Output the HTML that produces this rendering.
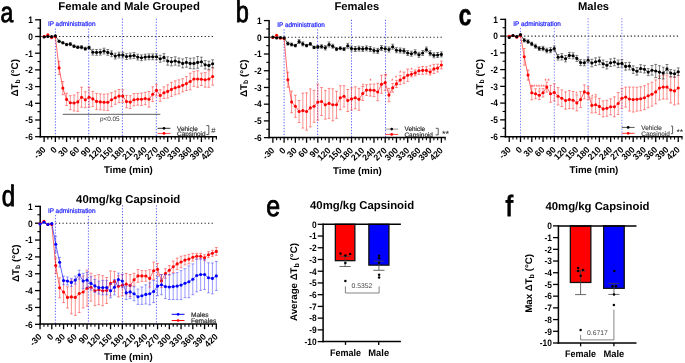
<!DOCTYPE html>
<html><head><meta charset="utf-8"><style>
html,body{margin:0;padding:0;background:#fff;}
body{width:685px;height:363px;overflow:hidden;}
svg{display:block;font-family:"Liberation Sans", sans-serif;will-change:transform;text-rendering:geometricPrecision;}
</style></head><body>
<svg width="685" height="363" viewBox="0 0 685 363">
<rect width="685" height="363" fill="#fff"/>
<line x1="41.3" y1="36.5" x2="214.38" y2="36.5" stroke="#222" stroke-width="1.1" stroke-dasharray="1.25 2.3"/>
<line x1="55.4" y1="28.5" x2="55.4" y2="136.8" stroke="#5050ff" stroke-width="0.9" stroke-dasharray="1.3 1.6"/>
<line x1="88.7" y1="28.5" x2="88.7" y2="136.8" stroke="#5050ff" stroke-width="0.9" stroke-dasharray="1.3 1.6"/>
<line x1="122.4" y1="18.7" x2="122.4" y2="136.8" stroke="#5050ff" stroke-width="0.9" stroke-dasharray="1.3 1.6"/>
<line x1="156.3" y1="18.7" x2="156.3" y2="136.8" stroke="#5050ff" stroke-width="0.9" stroke-dasharray="1.3 1.6"/>
<text x="47.9" y="25.7" font-size="6.7" font-weight="normal" text-anchor="start" fill="#2222ff" stroke="#2222ff" stroke-width="0.22" textLength="47.6" lengthAdjust="spacingAndGlyphs">IP administration</text>
<line x1="40.3" y1="19.1" x2="40.3" y2="137.5" stroke="#000" stroke-width="1.5" />
<line x1="35.1" y1="136.7" x2="40.3" y2="136.7" stroke="#000" stroke-width="1.3" />
<text transform="translate(32.8,140) scale(0.9,1)" font-size="9.3" font-weight="bold" text-anchor="end">-6</text>
<line x1="35.1" y1="120" x2="40.3" y2="120" stroke="#000" stroke-width="1.3" />
<text transform="translate(32.8,123.3) scale(0.9,1)" font-size="9.3" font-weight="bold" text-anchor="end">-5</text>
<line x1="35.1" y1="103.3" x2="40.3" y2="103.3" stroke="#000" stroke-width="1.3" />
<text transform="translate(32.8,106.6) scale(0.9,1)" font-size="9.3" font-weight="bold" text-anchor="end">-4</text>
<line x1="35.1" y1="86.6" x2="40.3" y2="86.6" stroke="#000" stroke-width="1.3" />
<text transform="translate(32.8,89.9) scale(0.9,1)" font-size="9.3" font-weight="bold" text-anchor="end">-3</text>
<line x1="35.1" y1="69.9" x2="40.3" y2="69.9" stroke="#000" stroke-width="1.3" />
<text transform="translate(32.8,73.2) scale(0.9,1)" font-size="9.3" font-weight="bold" text-anchor="end">-2</text>
<line x1="35.1" y1="53.2" x2="40.3" y2="53.2" stroke="#000" stroke-width="1.3" />
<text transform="translate(32.8,56.5) scale(0.9,1)" font-size="9.3" font-weight="bold" text-anchor="end">-1</text>
<line x1="35.1" y1="36.5" x2="40.3" y2="36.5" stroke="#000" stroke-width="1.3" />
<text transform="translate(32.8,39.8) scale(0.9,1)" font-size="9.3" font-weight="bold" text-anchor="end">0</text>
<line x1="35.1" y1="19.8" x2="40.3" y2="19.8" stroke="#000" stroke-width="1.3" />
<text transform="translate(32.8,23.1) scale(0.9,1)" font-size="9.3" font-weight="bold" text-anchor="end">1</text>
<line x1="37.5" y1="128.35" x2="40.3" y2="128.35" stroke="#000" stroke-width="1.1" />
<line x1="37.5" y1="111.65" x2="40.3" y2="111.65" stroke="#000" stroke-width="1.1" />
<line x1="37.5" y1="94.95" x2="40.3" y2="94.95" stroke="#000" stroke-width="1.1" />
<line x1="37.5" y1="78.25" x2="40.3" y2="78.25" stroke="#000" stroke-width="1.1" />
<line x1="37.5" y1="61.55" x2="40.3" y2="61.55" stroke="#000" stroke-width="1.1" />
<line x1="37.5" y1="44.85" x2="40.3" y2="44.85" stroke="#000" stroke-width="1.1" />
<line x1="37.5" y1="28.15" x2="40.3" y2="28.15" stroke="#000" stroke-width="1.1" />
<line x1="39.6" y1="136.8" x2="216.98" y2="136.8" stroke="#000" stroke-width="1.6" />
<line x1="44.12" y1="136.8" x2="44.12" y2="142" stroke="#000" stroke-width="1.3" />
<line x1="47.86" y1="136.8" x2="47.86" y2="139.6" stroke="#000" stroke-width="1.1" />
<line x1="51.61" y1="136.8" x2="51.61" y2="139.6" stroke="#000" stroke-width="1.1" />
<line x1="55.35" y1="136.8" x2="55.35" y2="142" stroke="#000" stroke-width="1.3" />
<line x1="59.09" y1="136.8" x2="59.09" y2="139.6" stroke="#000" stroke-width="1.1" />
<line x1="62.84" y1="136.8" x2="62.84" y2="139.6" stroke="#000" stroke-width="1.1" />
<line x1="66.59" y1="136.8" x2="66.59" y2="142" stroke="#000" stroke-width="1.3" />
<line x1="70.33" y1="136.8" x2="70.33" y2="139.6" stroke="#000" stroke-width="1.1" />
<line x1="74.08" y1="136.8" x2="74.08" y2="139.6" stroke="#000" stroke-width="1.1" />
<line x1="77.82" y1="136.8" x2="77.82" y2="142" stroke="#000" stroke-width="1.3" />
<line x1="81.56" y1="136.8" x2="81.56" y2="139.6" stroke="#000" stroke-width="1.1" />
<line x1="85.31" y1="136.8" x2="85.31" y2="139.6" stroke="#000" stroke-width="1.1" />
<line x1="89.06" y1="136.8" x2="89.06" y2="142" stroke="#000" stroke-width="1.3" />
<line x1="92.8" y1="136.8" x2="92.8" y2="139.6" stroke="#000" stroke-width="1.1" />
<line x1="96.55" y1="136.8" x2="96.55" y2="139.6" stroke="#000" stroke-width="1.1" />
<line x1="100.29" y1="136.8" x2="100.29" y2="142" stroke="#000" stroke-width="1.3" />
<line x1="104.03" y1="136.8" x2="104.03" y2="139.6" stroke="#000" stroke-width="1.1" />
<line x1="107.78" y1="136.8" x2="107.78" y2="139.6" stroke="#000" stroke-width="1.1" />
<line x1="111.53" y1="136.8" x2="111.53" y2="142" stroke="#000" stroke-width="1.3" />
<line x1="115.27" y1="136.8" x2="115.27" y2="139.6" stroke="#000" stroke-width="1.1" />
<line x1="119.02" y1="136.8" x2="119.02" y2="139.6" stroke="#000" stroke-width="1.1" />
<line x1="122.76" y1="136.8" x2="122.76" y2="142" stroke="#000" stroke-width="1.3" />
<line x1="126.5" y1="136.8" x2="126.5" y2="139.6" stroke="#000" stroke-width="1.1" />
<line x1="130.25" y1="136.8" x2="130.25" y2="139.6" stroke="#000" stroke-width="1.1" />
<line x1="134" y1="136.8" x2="134" y2="142" stroke="#000" stroke-width="1.3" />
<line x1="137.74" y1="136.8" x2="137.74" y2="139.6" stroke="#000" stroke-width="1.1" />
<line x1="141.49" y1="136.8" x2="141.49" y2="139.6" stroke="#000" stroke-width="1.1" />
<line x1="145.23" y1="136.8" x2="145.23" y2="142" stroke="#000" stroke-width="1.3" />
<line x1="148.97" y1="136.8" x2="148.97" y2="139.6" stroke="#000" stroke-width="1.1" />
<line x1="152.72" y1="136.8" x2="152.72" y2="139.6" stroke="#000" stroke-width="1.1" />
<line x1="156.47" y1="136.8" x2="156.47" y2="142" stroke="#000" stroke-width="1.3" />
<line x1="160.21" y1="136.8" x2="160.21" y2="139.6" stroke="#000" stroke-width="1.1" />
<line x1="163.96" y1="136.8" x2="163.96" y2="139.6" stroke="#000" stroke-width="1.1" />
<line x1="167.7" y1="136.8" x2="167.7" y2="142" stroke="#000" stroke-width="1.3" />
<line x1="171.44" y1="136.8" x2="171.44" y2="139.6" stroke="#000" stroke-width="1.1" />
<line x1="175.19" y1="136.8" x2="175.19" y2="139.6" stroke="#000" stroke-width="1.1" />
<line x1="178.94" y1="136.8" x2="178.94" y2="142" stroke="#000" stroke-width="1.3" />
<line x1="182.68" y1="136.8" x2="182.68" y2="139.6" stroke="#000" stroke-width="1.1" />
<line x1="186.42" y1="136.8" x2="186.42" y2="139.6" stroke="#000" stroke-width="1.1" />
<line x1="190.17" y1="136.8" x2="190.17" y2="142" stroke="#000" stroke-width="1.3" />
<line x1="193.91" y1="136.8" x2="193.91" y2="139.6" stroke="#000" stroke-width="1.1" />
<line x1="197.66" y1="136.8" x2="197.66" y2="139.6" stroke="#000" stroke-width="1.1" />
<line x1="201.41" y1="136.8" x2="201.41" y2="142" stroke="#000" stroke-width="1.3" />
<line x1="205.15" y1="136.8" x2="205.15" y2="139.6" stroke="#000" stroke-width="1.1" />
<line x1="208.89" y1="136.8" x2="208.89" y2="139.6" stroke="#000" stroke-width="1.1" />
<line x1="212.64" y1="136.8" x2="212.64" y2="142" stroke="#000" stroke-width="1.3" />
<line x1="216.38" y1="136.8" x2="216.38" y2="139.6" stroke="#000" stroke-width="1.1" />
<text transform="translate(46.32,150.2) rotate(-45)" font-size="8.8" font-weight="bold" text-anchor="end">-30</text>
<text transform="translate(57.55,150.2) rotate(-45)" font-size="8.8" font-weight="bold" text-anchor="end">0</text>
<text transform="translate(68.79,150.2) rotate(-45)" font-size="8.8" font-weight="bold" text-anchor="end">30</text>
<text transform="translate(80.02,150.2) rotate(-45)" font-size="8.8" font-weight="bold" text-anchor="end">60</text>
<text transform="translate(91.26,150.2) rotate(-45)" font-size="8.8" font-weight="bold" text-anchor="end">90</text>
<text transform="translate(102.49,150.2) rotate(-45)" font-size="8.8" font-weight="bold" text-anchor="end">120</text>
<text transform="translate(113.73,150.2) rotate(-45)" font-size="8.8" font-weight="bold" text-anchor="end">150</text>
<text transform="translate(124.96,150.2) rotate(-45)" font-size="8.8" font-weight="bold" text-anchor="end">180</text>
<text transform="translate(136.19,150.2) rotate(-45)" font-size="8.8" font-weight="bold" text-anchor="end">210</text>
<text transform="translate(147.43,150.2) rotate(-45)" font-size="8.8" font-weight="bold" text-anchor="end">240</text>
<text transform="translate(158.66,150.2) rotate(-45)" font-size="8.8" font-weight="bold" text-anchor="end">270</text>
<text transform="translate(169.9,150.2) rotate(-45)" font-size="8.8" font-weight="bold" text-anchor="end">300</text>
<text transform="translate(181.13,150.2) rotate(-45)" font-size="8.8" font-weight="bold" text-anchor="end">330</text>
<text transform="translate(192.37,150.2) rotate(-45)" font-size="8.8" font-weight="bold" text-anchor="end">360</text>
<text transform="translate(203.6,150.2) rotate(-45)" font-size="8.8" font-weight="bold" text-anchor="end">390</text>
<text transform="translate(214.84,150.2) rotate(-45)" font-size="8.8" font-weight="bold" text-anchor="end">420</text>
<text x="128.4" y="172.7" font-size="9.7" font-weight="bold" text-anchor="middle" fill="#000" >Time (min)</text>
<text transform="translate(18,77.8) rotate(-90)" font-size="9.8" font-weight="bold" text-anchor="middle">ΔT<tspan font-size="6.8" dy="1.6">b</tspan><tspan dy="-1.6"> (°C)</tspan></text>
<text x="58.3" y="9.9" font-size="11.38" font-weight="bold" text-anchor="start" fill="#000" >Female and Male Grouped</text>
<path d="M59.09 61.3V74.5M57.7 61.3h2.8M57.7 74.5h2.8" stroke="#ff2a2a" stroke-width="0.7" fill="none" opacity="0.75"/>
<path d="M62.84 81.5V94.7M61.44 81.5h2.8M61.44 94.7h2.8" stroke="#ff2a2a" stroke-width="0.7" fill="none" opacity="0.75"/>
<path d="M66.59 93.2V105.6M65.19 93.2h2.8M65.19 105.6h2.8" stroke="#ff2a2a" stroke-width="0.7" fill="none" opacity="0.75"/>
<path d="M70.33 95.7V109.7M68.93 95.7h2.8M68.93 109.7h2.8" stroke="#ff2a2a" stroke-width="0.7" fill="none" opacity="0.75"/>
<path d="M74.08 95V111M72.67 95h2.8M72.67 111h2.8" stroke="#ff2a2a" stroke-width="0.7" fill="none" opacity="0.75"/>
<path d="M77.82 92.4V111.4M76.42 92.4h2.8M76.42 111.4h2.8" stroke="#ff2a2a" stroke-width="0.7" fill="none" opacity="0.75"/>
<path d="M81.56 87.2V107.2M80.16 87.2h2.8M80.16 107.2h2.8" stroke="#ff2a2a" stroke-width="0.7" fill="none" opacity="0.75"/>
<path d="M85.31 91.7V107.7M83.91 91.7h2.8M83.91 107.7h2.8" stroke="#ff2a2a" stroke-width="0.7" fill="none" opacity="0.75"/>
<path d="M89.06 87.2V107.2M87.66 87.2h2.8M87.66 107.2h2.8" stroke="#ff2a2a" stroke-width="0.7" fill="none" opacity="0.75"/>
<path d="M92.8 91.4V106.4M91.4 91.4h2.8M91.4 106.4h2.8" stroke="#ff2a2a" stroke-width="0.7" fill="none" opacity="0.75"/>
<path d="M96.55 93.4V109.4M95.14 93.4h2.8M95.14 109.4h2.8" stroke="#ff2a2a" stroke-width="0.7" fill="none" opacity="0.75"/>
<path d="M100.29 93.9V109.9M98.89 93.9h2.8M98.89 109.9h2.8" stroke="#ff2a2a" stroke-width="0.7" fill="none" opacity="0.75"/>
<path d="M104.03 94.2V110.2M102.63 94.2h2.8M102.63 110.2h2.8" stroke="#ff2a2a" stroke-width="0.7" fill="none" opacity="0.75"/>
<path d="M107.78 93.9V110.5M106.38 93.9h2.8M106.38 110.5h2.8" stroke="#ff2a2a" stroke-width="0.7" fill="none" opacity="0.75"/>
<path d="M111.53 92.7V106.7M110.12 92.7h2.8M110.12 106.7h2.8" stroke="#ff2a2a" stroke-width="0.7" fill="none" opacity="0.75"/>
<path d="M115.27 91.1V104.3M113.87 91.1h2.8M113.87 104.3h2.8" stroke="#ff2a2a" stroke-width="0.7" fill="none" opacity="0.75"/>
<path d="M119.02 89.5V102.7M117.61 89.5h2.8M117.61 102.7h2.8" stroke="#ff2a2a" stroke-width="0.7" fill="none" opacity="0.75"/>
<path d="M122.76 89.9V102.3M121.36 89.9h2.8M121.36 102.3h2.8" stroke="#ff2a2a" stroke-width="0.7" fill="none" opacity="0.75"/>
<path d="M126.5 95.4V107.8M125.1 95.4h2.8M125.1 107.8h2.8" stroke="#ff2a2a" stroke-width="0.7" fill="none" opacity="0.75"/>
<path d="M130.25 95.7V108.5M128.85 95.7h2.8M128.85 108.5h2.8" stroke="#ff2a2a" stroke-width="0.7" fill="none" opacity="0.75"/>
<path d="M134 93.5V105.9M132.59 93.5h2.8M132.59 105.9h2.8" stroke="#ff2a2a" stroke-width="0.7" fill="none" opacity="0.75"/>
<path d="M137.74 93.5V105.1M136.34 93.5h2.8M136.34 105.1h2.8" stroke="#ff2a2a" stroke-width="0.7" fill="none" opacity="0.75"/>
<path d="M141.49 93V105.4M140.09 93h2.8M140.09 105.4h2.8" stroke="#ff2a2a" stroke-width="0.7" fill="none" opacity="0.75"/>
<path d="M145.23 92.3V104.7M143.83 92.3h2.8M143.83 104.7h2.8" stroke="#ff2a2a" stroke-width="0.7" fill="none" opacity="0.75"/>
<path d="M148.97 91.5V107.1M147.57 91.5h2.8M147.57 107.1h2.8" stroke="#ff2a2a" stroke-width="0.7" fill="none" opacity="0.75"/>
<path d="M152.72 86.8V101.6M151.32 86.8h2.8M151.32 101.6h2.8" stroke="#ff2a2a" stroke-width="0.7" fill="none" opacity="0.75"/>
<path d="M156.47 84.4V96M155.06 84.4h2.8M155.06 96h2.8" stroke="#ff2a2a" stroke-width="0.7" fill="none" opacity="0.75"/>
<path d="M160.21 89.7V101.3M158.81 89.7h2.8M158.81 101.3h2.8" stroke="#ff2a2a" stroke-width="0.7" fill="none" opacity="0.75"/>
<path d="M163.96 86.9V98.5M162.56 86.9h2.8M162.56 98.5h2.8" stroke="#ff2a2a" stroke-width="0.7" fill="none" opacity="0.75"/>
<path d="M167.7 84.8V98M166.3 84.8h2.8M166.3 98h2.8" stroke="#ff2a2a" stroke-width="0.7" fill="none" opacity="0.75"/>
<path d="M171.44 82.4V96.4M170.04 82.4h2.8M170.04 96.4h2.8" stroke="#ff2a2a" stroke-width="0.7" fill="none" opacity="0.75"/>
<path d="M175.19 80.8V94.8M173.79 80.8h2.8M173.79 94.8h2.8" stroke="#ff2a2a" stroke-width="0.7" fill="none" opacity="0.75"/>
<path d="M178.94 79.8V93.8M177.53 79.8h2.8M177.53 93.8h2.8" stroke="#ff2a2a" stroke-width="0.7" fill="none" opacity="0.75"/>
<path d="M182.68 78.7V91.9M181.28 78.7h2.8M181.28 91.9h2.8" stroke="#ff2a2a" stroke-width="0.7" fill="none" opacity="0.75"/>
<path d="M186.42 76.6V90.6M185.02 76.6h2.8M185.02 90.6h2.8" stroke="#ff2a2a" stroke-width="0.7" fill="none" opacity="0.75"/>
<path d="M190.17 73.2V89.8M188.77 73.2h2.8M188.77 89.8h2.8" stroke="#ff2a2a" stroke-width="0.7" fill="none" opacity="0.75"/>
<path d="M193.91 71.6V86.4M192.51 71.6h2.8M192.51 86.4h2.8" stroke="#ff2a2a" stroke-width="0.7" fill="none" opacity="0.75"/>
<path d="M197.66 70.7V87.3M196.26 70.7h2.8M196.26 87.3h2.8" stroke="#ff2a2a" stroke-width="0.7" fill="none" opacity="0.75"/>
<path d="M201.41 73.1V85.5M200 73.1h2.8M200 85.5h2.8" stroke="#ff2a2a" stroke-width="0.7" fill="none" opacity="0.75"/>
<path d="M205.15 72.4V87.2M203.75 72.4h2.8M203.75 87.2h2.8" stroke="#ff2a2a" stroke-width="0.7" fill="none" opacity="0.75"/>
<path d="M208.89 70.7V87.3M207.49 70.7h2.8M207.49 87.3h2.8" stroke="#ff2a2a" stroke-width="0.7" fill="none" opacity="0.75"/>
<path d="M212.64 67.8V85.2M211.24 67.8h2.8M211.24 85.2h2.8" stroke="#ff2a2a" stroke-width="0.7" fill="none" opacity="0.75"/>
<path d="M44.12 36.5 L47.86 34.9 L51.61 37.6 L55.35 36.8 L59.09 67.9 L62.84 88.1 L66.59 99.4 L70.33 102.7 L74.08 103 L77.82 101.9 L81.56 97.2 L85.31 99.7 L89.06 97.2 L92.8 98.9 L96.55 101.4 L100.29 101.9 L104.03 102.2 L107.78 102.2 L111.53 99.7 L115.27 97.7 L119.02 96.1 L122.76 96.1 L126.5 101.6 L130.25 102.1 L134 99.7 L137.74 99.3 L141.49 99.2 L145.23 98.5 L148.97 99.3 L152.72 94.2 L156.47 90.2 L160.21 95.5 L163.96 92.7 L167.7 91.4 L171.44 89.4 L175.19 87.8 L178.94 86.8 L182.68 85.3 L186.42 83.6 L190.17 81.5 L193.91 79 L197.66 79 L201.41 79.3 L205.15 79.8 L208.89 79 L212.64 76.5" stroke="#ff0000" stroke-width="0.7" fill="none" opacity="0.85"/>
<circle cx="44.12" cy="36.5" r="1.55" fill="#ff0000"/>
<circle cx="47.86" cy="34.9" r="1.55" fill="#ff0000"/>
<circle cx="51.61" cy="37.6" r="1.55" fill="#ff0000"/>
<circle cx="55.35" cy="36.8" r="1.55" fill="#ff0000"/>
<circle cx="59.09" cy="67.9" r="1.55" fill="#ff0000"/>
<circle cx="62.84" cy="88.1" r="1.55" fill="#ff0000"/>
<circle cx="66.59" cy="99.4" r="1.55" fill="#ff0000"/>
<circle cx="70.33" cy="102.7" r="1.55" fill="#ff0000"/>
<circle cx="74.08" cy="103" r="1.55" fill="#ff0000"/>
<circle cx="77.82" cy="101.9" r="1.55" fill="#ff0000"/>
<circle cx="81.56" cy="97.2" r="1.55" fill="#ff0000"/>
<circle cx="85.31" cy="99.7" r="1.55" fill="#ff0000"/>
<circle cx="89.06" cy="97.2" r="1.55" fill="#ff0000"/>
<circle cx="92.8" cy="98.9" r="1.55" fill="#ff0000"/>
<circle cx="96.55" cy="101.4" r="1.55" fill="#ff0000"/>
<circle cx="100.29" cy="101.9" r="1.55" fill="#ff0000"/>
<circle cx="104.03" cy="102.2" r="1.55" fill="#ff0000"/>
<circle cx="107.78" cy="102.2" r="1.55" fill="#ff0000"/>
<circle cx="111.53" cy="99.7" r="1.55" fill="#ff0000"/>
<circle cx="115.27" cy="97.7" r="1.55" fill="#ff0000"/>
<circle cx="119.02" cy="96.1" r="1.55" fill="#ff0000"/>
<circle cx="122.76" cy="96.1" r="1.55" fill="#ff0000"/>
<circle cx="126.5" cy="101.6" r="1.55" fill="#ff0000"/>
<circle cx="130.25" cy="102.1" r="1.55" fill="#ff0000"/>
<circle cx="134" cy="99.7" r="1.55" fill="#ff0000"/>
<circle cx="137.74" cy="99.3" r="1.55" fill="#ff0000"/>
<circle cx="141.49" cy="99.2" r="1.55" fill="#ff0000"/>
<circle cx="145.23" cy="98.5" r="1.55" fill="#ff0000"/>
<circle cx="148.97" cy="99.3" r="1.55" fill="#ff0000"/>
<circle cx="152.72" cy="94.2" r="1.55" fill="#ff0000"/>
<circle cx="156.47" cy="90.2" r="1.55" fill="#ff0000"/>
<circle cx="160.21" cy="95.5" r="1.55" fill="#ff0000"/>
<circle cx="163.96" cy="92.7" r="1.55" fill="#ff0000"/>
<circle cx="167.7" cy="91.4" r="1.55" fill="#ff0000"/>
<circle cx="171.44" cy="89.4" r="1.55" fill="#ff0000"/>
<circle cx="175.19" cy="87.8" r="1.55" fill="#ff0000"/>
<circle cx="178.94" cy="86.8" r="1.55" fill="#ff0000"/>
<circle cx="182.68" cy="85.3" r="1.55" fill="#ff0000"/>
<circle cx="186.42" cy="83.6" r="1.55" fill="#ff0000"/>
<circle cx="190.17" cy="81.5" r="1.55" fill="#ff0000"/>
<circle cx="193.91" cy="79" r="1.55" fill="#ff0000"/>
<circle cx="197.66" cy="79" r="1.55" fill="#ff0000"/>
<circle cx="201.41" cy="79.3" r="1.55" fill="#ff0000"/>
<circle cx="205.15" cy="79.8" r="1.55" fill="#ff0000"/>
<circle cx="208.89" cy="79" r="1.55" fill="#ff0000"/>
<circle cx="212.64" cy="76.5" r="1.55" fill="#ff0000"/>
<path d="M59.09 40.2V42.2M57.7 40.2h2.8M57.7 42.2h2.8" stroke="#222" stroke-width="0.7" fill="none" opacity="0.8"/>
<path d="M62.84 41.8V43.8M61.44 41.8h2.8M61.44 43.8h2.8" stroke="#222" stroke-width="0.7" fill="none" opacity="0.8"/>
<path d="M66.59 43.3V45.7M65.19 43.3h2.8M65.19 45.7h2.8" stroke="#222" stroke-width="0.7" fill="none" opacity="0.8"/>
<path d="M70.33 42.6V45.6M68.93 42.6h2.8M68.93 45.6h2.8" stroke="#222" stroke-width="0.7" fill="none" opacity="0.8"/>
<path d="M74.08 44.9V47.5M72.67 44.9h2.8M72.67 47.5h2.8" stroke="#222" stroke-width="0.7" fill="none" opacity="0.8"/>
<path d="M77.82 45.9V48.5M76.42 45.9h2.8M76.42 48.5h2.8" stroke="#222" stroke-width="0.7" fill="none" opacity="0.8"/>
<path d="M81.56 45.6V48.8M80.16 45.6h2.8M80.16 48.8h2.8" stroke="#222" stroke-width="0.7" fill="none" opacity="0.8"/>
<path d="M85.31 47.2V50.2M83.91 47.2h2.8M83.91 50.2h2.8" stroke="#222" stroke-width="0.7" fill="none" opacity="0.8"/>
<path d="M89.06 46.1V49.1M87.66 46.1h2.8M87.66 49.1h2.8" stroke="#222" stroke-width="0.7" fill="none" opacity="0.8"/>
<path d="M92.8 49.3V55.1M91.4 49.3h2.8M91.4 55.1h2.8" stroke="#222" stroke-width="0.7" fill="none" opacity="0.8"/>
<path d="M96.55 49.5V55.3M95.14 49.5h2.8M95.14 55.3h2.8" stroke="#222" stroke-width="0.7" fill="none" opacity="0.8"/>
<path d="M100.29 49.3V55.1M98.89 49.3h2.8M98.89 55.1h2.8" stroke="#222" stroke-width="0.7" fill="none" opacity="0.8"/>
<path d="M104.03 48.2V54M102.63 48.2h2.8M102.63 54h2.8" stroke="#222" stroke-width="0.7" fill="none" opacity="0.8"/>
<path d="M107.78 49.5V55.3M106.38 49.5h2.8M106.38 55.3h2.8" stroke="#222" stroke-width="0.7" fill="none" opacity="0.8"/>
<path d="M111.53 50.9V56.7M110.12 50.9h2.8M110.12 56.7h2.8" stroke="#222" stroke-width="0.7" fill="none" opacity="0.8"/>
<path d="M115.27 53.2V59M113.87 53.2h2.8M113.87 59h2.8" stroke="#222" stroke-width="0.7" fill="none" opacity="0.8"/>
<path d="M119.02 52.2V58M117.61 52.2h2.8M117.61 58h2.8" stroke="#222" stroke-width="0.7" fill="none" opacity="0.8"/>
<path d="M122.76 52.2V58M121.36 52.2h2.8M121.36 58h2.8" stroke="#222" stroke-width="0.7" fill="none" opacity="0.8"/>
<path d="M126.5 53.7V59.5M125.1 53.7h2.8M125.1 59.5h2.8" stroke="#222" stroke-width="0.7" fill="none" opacity="0.8"/>
<path d="M130.25 53.1V58.9M128.85 53.1h2.8M128.85 58.9h2.8" stroke="#222" stroke-width="0.7" fill="none" opacity="0.8"/>
<path d="M134 52.6V58.4M132.59 52.6h2.8M132.59 58.4h2.8" stroke="#222" stroke-width="0.7" fill="none" opacity="0.8"/>
<path d="M137.74 54.2V60M136.34 54.2h2.8M136.34 60h2.8" stroke="#222" stroke-width="0.7" fill="none" opacity="0.8"/>
<path d="M141.49 54.9V60.7M140.09 54.9h2.8M140.09 60.7h2.8" stroke="#222" stroke-width="0.7" fill="none" opacity="0.8"/>
<path d="M145.23 54.2V60M143.83 54.2h2.8M143.83 60h2.8" stroke="#222" stroke-width="0.7" fill="none" opacity="0.8"/>
<path d="M148.97 53.9V59.7M147.57 53.9h2.8M147.57 59.7h2.8" stroke="#222" stroke-width="0.7" fill="none" opacity="0.8"/>
<path d="M152.72 53.9V59.7M151.32 53.9h2.8M151.32 59.7h2.8" stroke="#222" stroke-width="0.7" fill="none" opacity="0.8"/>
<path d="M156.47 53.9V59.7M155.06 53.9h2.8M155.06 59.7h2.8" stroke="#222" stroke-width="0.7" fill="none" opacity="0.8"/>
<path d="M160.21 55.3V62.3M158.81 55.3h2.8M158.81 62.3h2.8" stroke="#222" stroke-width="0.7" fill="none" opacity="0.8"/>
<path d="M163.96 53.6V61.2M162.56 53.6h2.8M162.56 61.2h2.8" stroke="#222" stroke-width="0.7" fill="none" opacity="0.8"/>
<path d="M167.7 56.8V65.2M166.3 56.8h2.8M166.3 65.2h2.8" stroke="#222" stroke-width="0.7" fill="none" opacity="0.8"/>
<path d="M171.44 57.5V65.9M170.04 57.5h2.8M170.04 65.9h2.8" stroke="#222" stroke-width="0.7" fill="none" opacity="0.8"/>
<path d="M175.19 56.8V65.2M173.79 56.8h2.8M173.79 65.2h2.8" stroke="#222" stroke-width="0.7" fill="none" opacity="0.8"/>
<path d="M178.94 58V66M177.53 58h2.8M177.53 66h2.8" stroke="#222" stroke-width="0.7" fill="none" opacity="0.8"/>
<path d="M182.68 58.9V67.9M181.28 58.9h2.8M181.28 67.9h2.8" stroke="#222" stroke-width="0.7" fill="none" opacity="0.8"/>
<path d="M186.42 57.6V67.2M185.02 57.6h2.8M185.02 67.2h2.8" stroke="#222" stroke-width="0.7" fill="none" opacity="0.8"/>
<path d="M190.17 58.2V68.6M188.77 58.2h2.8M188.77 68.6h2.8" stroke="#222" stroke-width="0.7" fill="none" opacity="0.8"/>
<path d="M193.91 57.9V68.9M192.51 57.9h2.8M192.51 68.9h2.8" stroke="#222" stroke-width="0.7" fill="none" opacity="0.8"/>
<path d="M197.66 56.5V68.3M196.26 56.5h2.8M196.26 68.3h2.8" stroke="#222" stroke-width="0.7" fill="none" opacity="0.8"/>
<path d="M201.41 57.2V66.2M200 57.2h2.8M200 66.2h2.8" stroke="#222" stroke-width="0.7" fill="none" opacity="0.8"/>
<path d="M205.15 60.6V69M203.75 60.6h2.8M203.75 69h2.8" stroke="#222" stroke-width="0.7" fill="none" opacity="0.8"/>
<path d="M208.89 61.2V69.6M207.49 61.2h2.8M207.49 69.6h2.8" stroke="#222" stroke-width="0.7" fill="none" opacity="0.8"/>
<path d="M212.64 59.8V67.8M211.24 59.8h2.8M211.24 67.8h2.8" stroke="#222" stroke-width="0.7" fill="none" opacity="0.8"/>
<path d="M44.12 37.05 L47.86 36.5 L51.61 36.6 L55.35 35.8 L59.09 41.2 L62.84 42.8 L66.59 44.5 L70.33 44.1 L74.08 46.2 L77.82 47.2 L81.56 47.2 L85.31 48.7 L89.06 47.6 L92.8 52.2 L96.55 52.4 L100.29 52.2 L104.03 51.1 L107.78 52.4 L111.53 53.8 L115.27 56.1 L119.02 55.1 L122.76 55.1 L126.5 56.6 L130.25 56 L134 55.5 L137.74 57.1 L141.49 57.8 L145.23 57.1 L148.97 56.8 L152.72 56.8 L156.47 56.8 L160.21 58.8 L163.96 57.4 L167.7 61 L171.44 61.7 L175.19 61 L178.94 62 L182.68 63.4 L186.42 62.4 L190.17 63.4 L193.91 63.4 L197.66 62.4 L201.41 61.7 L205.15 64.8 L208.89 65.4 L212.64 63.8" stroke="#000" stroke-width="0.7" fill="none" opacity="0.85"/>
<circle cx="44.12" cy="37.05" r="1.55" fill="#000"/>
<circle cx="47.86" cy="36.5" r="1.55" fill="#000"/>
<circle cx="51.61" cy="36.6" r="1.55" fill="#000"/>
<circle cx="55.35" cy="35.8" r="1.55" fill="#000"/>
<circle cx="59.09" cy="41.2" r="1.55" fill="#000"/>
<circle cx="62.84" cy="42.8" r="1.55" fill="#000"/>
<circle cx="66.59" cy="44.5" r="1.55" fill="#000"/>
<circle cx="70.33" cy="44.1" r="1.55" fill="#000"/>
<circle cx="74.08" cy="46.2" r="1.55" fill="#000"/>
<circle cx="77.82" cy="47.2" r="1.55" fill="#000"/>
<circle cx="81.56" cy="47.2" r="1.55" fill="#000"/>
<circle cx="85.31" cy="48.7" r="1.55" fill="#000"/>
<circle cx="89.06" cy="47.6" r="1.55" fill="#000"/>
<circle cx="92.8" cy="52.2" r="1.55" fill="#000"/>
<circle cx="96.55" cy="52.4" r="1.55" fill="#000"/>
<circle cx="100.29" cy="52.2" r="1.55" fill="#000"/>
<circle cx="104.03" cy="51.1" r="1.55" fill="#000"/>
<circle cx="107.78" cy="52.4" r="1.55" fill="#000"/>
<circle cx="111.53" cy="53.8" r="1.55" fill="#000"/>
<circle cx="115.27" cy="56.1" r="1.55" fill="#000"/>
<circle cx="119.02" cy="55.1" r="1.55" fill="#000"/>
<circle cx="122.76" cy="55.1" r="1.55" fill="#000"/>
<circle cx="126.5" cy="56.6" r="1.55" fill="#000"/>
<circle cx="130.25" cy="56" r="1.55" fill="#000"/>
<circle cx="134" cy="55.5" r="1.55" fill="#000"/>
<circle cx="137.74" cy="57.1" r="1.55" fill="#000"/>
<circle cx="141.49" cy="57.8" r="1.55" fill="#000"/>
<circle cx="145.23" cy="57.1" r="1.55" fill="#000"/>
<circle cx="148.97" cy="56.8" r="1.55" fill="#000"/>
<circle cx="152.72" cy="56.8" r="1.55" fill="#000"/>
<circle cx="156.47" cy="56.8" r="1.55" fill="#000"/>
<circle cx="160.21" cy="58.8" r="1.55" fill="#000"/>
<circle cx="163.96" cy="57.4" r="1.55" fill="#000"/>
<circle cx="167.7" cy="61" r="1.55" fill="#000"/>
<circle cx="171.44" cy="61.7" r="1.55" fill="#000"/>
<circle cx="175.19" cy="61" r="1.55" fill="#000"/>
<circle cx="178.94" cy="62" r="1.55" fill="#000"/>
<circle cx="182.68" cy="63.4" r="1.55" fill="#000"/>
<circle cx="186.42" cy="62.4" r="1.55" fill="#000"/>
<circle cx="190.17" cy="63.4" r="1.55" fill="#000"/>
<circle cx="193.91" cy="63.4" r="1.55" fill="#000"/>
<circle cx="197.66" cy="62.4" r="1.55" fill="#000"/>
<circle cx="201.41" cy="61.7" r="1.55" fill="#000"/>
<circle cx="205.15" cy="64.8" r="1.55" fill="#000"/>
<circle cx="208.89" cy="65.4" r="1.55" fill="#000"/>
<circle cx="212.64" cy="63.8" r="1.55" fill="#000"/>
<line x1="157.6" y1="128.3" x2="170.4" y2="128.3" stroke="#333" stroke-width="1.0" />
<circle cx="164" cy="128.3" r="1.35" fill="#000"/>
<text x="177.1" y="130.5" font-size="6.4" font-weight="normal" text-anchor="start" fill="#222" stroke="#222" stroke-width="0.15">Vehicle</text>
<line x1="157.6" y1="133.4" x2="170.4" y2="133.4" stroke="#ff5050" stroke-width="1.0" />
<circle cx="164" cy="133.4" r="1.35" fill="#ff0000"/>
<text x="177.1" y="135.6" font-size="6.4" font-weight="normal" text-anchor="start" fill="#222" stroke="#222" stroke-width="0.15">Capsinoid</text>
<path d="M206.3 125.6H208.8V134.6H206.3" stroke="#333" stroke-width="0.8" fill="none"/>
<text x="211.3" y="132.8" font-size="7.8" font-weight="normal" text-anchor="start" fill="#222" >#</text>
<line x1="270.1" y1="37.3" x2="443.13" y2="37.3" stroke="#222" stroke-width="1.1" stroke-dasharray="1.25 2.3"/>
<line x1="284.1" y1="29.3" x2="284.1" y2="137.55" stroke="#5050ff" stroke-width="0.9" stroke-dasharray="1.3 1.6"/>
<line x1="317.6" y1="29.3" x2="317.6" y2="137.55" stroke="#5050ff" stroke-width="0.9" stroke-dasharray="1.3 1.6"/>
<line x1="351.5" y1="19.7" x2="351.5" y2="137.55" stroke="#5050ff" stroke-width="0.9" stroke-dasharray="1.3 1.6"/>
<line x1="385.5" y1="19.7" x2="385.5" y2="137.55" stroke="#5050ff" stroke-width="0.9" stroke-dasharray="1.3 1.6"/>
<text x="277.2" y="26.8" font-size="6.7" font-weight="normal" text-anchor="start" fill="#2222ff" stroke="#2222ff" stroke-width="0.22" textLength="47.6" lengthAdjust="spacingAndGlyphs">IP administration</text>
<line x1="269.1" y1="19.88" x2="269.1" y2="138.25" stroke="#000" stroke-width="1.5" />
<line x1="263.9" y1="137.62" x2="269.1" y2="137.62" stroke="#000" stroke-width="1.3" />
<text transform="translate(261.6,140.92) scale(0.9,1)" font-size="9.3" font-weight="bold" text-anchor="end">-6</text>
<line x1="263.9" y1="120.9" x2="269.1" y2="120.9" stroke="#000" stroke-width="1.3" />
<text transform="translate(261.6,124.2) scale(0.9,1)" font-size="9.3" font-weight="bold" text-anchor="end">-5</text>
<line x1="263.9" y1="104.18" x2="269.1" y2="104.18" stroke="#000" stroke-width="1.3" />
<text transform="translate(261.6,107.48) scale(0.9,1)" font-size="9.3" font-weight="bold" text-anchor="end">-4</text>
<line x1="263.9" y1="87.46" x2="269.1" y2="87.46" stroke="#000" stroke-width="1.3" />
<text transform="translate(261.6,90.76) scale(0.9,1)" font-size="9.3" font-weight="bold" text-anchor="end">-3</text>
<line x1="263.9" y1="70.74" x2="269.1" y2="70.74" stroke="#000" stroke-width="1.3" />
<text transform="translate(261.6,74.04) scale(0.9,1)" font-size="9.3" font-weight="bold" text-anchor="end">-2</text>
<line x1="263.9" y1="54.02" x2="269.1" y2="54.02" stroke="#000" stroke-width="1.3" />
<text transform="translate(261.6,57.32) scale(0.9,1)" font-size="9.3" font-weight="bold" text-anchor="end">-1</text>
<line x1="263.9" y1="37.3" x2="269.1" y2="37.3" stroke="#000" stroke-width="1.3" />
<text transform="translate(261.6,40.6) scale(0.9,1)" font-size="9.3" font-weight="bold" text-anchor="end">0</text>
<line x1="263.9" y1="20.58" x2="269.1" y2="20.58" stroke="#000" stroke-width="1.3" />
<text transform="translate(261.6,23.88) scale(0.9,1)" font-size="9.3" font-weight="bold" text-anchor="end">1</text>
<line x1="266.3" y1="129.26" x2="269.1" y2="129.26" stroke="#000" stroke-width="1.1" />
<line x1="266.3" y1="112.54" x2="269.1" y2="112.54" stroke="#000" stroke-width="1.1" />
<line x1="266.3" y1="95.82" x2="269.1" y2="95.82" stroke="#000" stroke-width="1.1" />
<line x1="266.3" y1="79.1" x2="269.1" y2="79.1" stroke="#000" stroke-width="1.1" />
<line x1="266.3" y1="62.38" x2="269.1" y2="62.38" stroke="#000" stroke-width="1.1" />
<line x1="266.3" y1="45.66" x2="269.1" y2="45.66" stroke="#000" stroke-width="1.1" />
<line x1="266.3" y1="28.94" x2="269.1" y2="28.94" stroke="#000" stroke-width="1.1" />
<line x1="268.4" y1="137.55" x2="445.74" y2="137.55" stroke="#000" stroke-width="1.6" />
<line x1="272.87" y1="137.55" x2="272.87" y2="142.75" stroke="#000" stroke-width="1.3" />
<line x1="276.61" y1="137.55" x2="276.61" y2="140.35" stroke="#000" stroke-width="1.1" />
<line x1="280.36" y1="137.55" x2="280.36" y2="140.35" stroke="#000" stroke-width="1.1" />
<line x1="284.1" y1="137.55" x2="284.1" y2="142.75" stroke="#000" stroke-width="1.3" />
<line x1="287.85" y1="137.55" x2="287.85" y2="140.35" stroke="#000" stroke-width="1.1" />
<line x1="291.59" y1="137.55" x2="291.59" y2="140.35" stroke="#000" stroke-width="1.1" />
<line x1="295.34" y1="137.55" x2="295.34" y2="142.75" stroke="#000" stroke-width="1.3" />
<line x1="299.08" y1="137.55" x2="299.08" y2="140.35" stroke="#000" stroke-width="1.1" />
<line x1="302.83" y1="137.55" x2="302.83" y2="140.35" stroke="#000" stroke-width="1.1" />
<line x1="306.57" y1="137.55" x2="306.57" y2="142.75" stroke="#000" stroke-width="1.3" />
<line x1="310.31" y1="137.55" x2="310.31" y2="140.35" stroke="#000" stroke-width="1.1" />
<line x1="314.06" y1="137.55" x2="314.06" y2="140.35" stroke="#000" stroke-width="1.1" />
<line x1="317.81" y1="137.55" x2="317.81" y2="142.75" stroke="#000" stroke-width="1.3" />
<line x1="321.55" y1="137.55" x2="321.55" y2="140.35" stroke="#000" stroke-width="1.1" />
<line x1="325.3" y1="137.55" x2="325.3" y2="140.35" stroke="#000" stroke-width="1.1" />
<line x1="329.04" y1="137.55" x2="329.04" y2="142.75" stroke="#000" stroke-width="1.3" />
<line x1="332.79" y1="137.55" x2="332.79" y2="140.35" stroke="#000" stroke-width="1.1" />
<line x1="336.53" y1="137.55" x2="336.53" y2="140.35" stroke="#000" stroke-width="1.1" />
<line x1="340.28" y1="137.55" x2="340.28" y2="142.75" stroke="#000" stroke-width="1.3" />
<line x1="344.02" y1="137.55" x2="344.02" y2="140.35" stroke="#000" stroke-width="1.1" />
<line x1="347.77" y1="137.55" x2="347.77" y2="140.35" stroke="#000" stroke-width="1.1" />
<line x1="351.51" y1="137.55" x2="351.51" y2="142.75" stroke="#000" stroke-width="1.3" />
<line x1="355.25" y1="137.55" x2="355.25" y2="140.35" stroke="#000" stroke-width="1.1" />
<line x1="359" y1="137.55" x2="359" y2="140.35" stroke="#000" stroke-width="1.1" />
<line x1="362.75" y1="137.55" x2="362.75" y2="142.75" stroke="#000" stroke-width="1.3" />
<line x1="366.49" y1="137.55" x2="366.49" y2="140.35" stroke="#000" stroke-width="1.1" />
<line x1="370.24" y1="137.55" x2="370.24" y2="140.35" stroke="#000" stroke-width="1.1" />
<line x1="373.98" y1="137.55" x2="373.98" y2="142.75" stroke="#000" stroke-width="1.3" />
<line x1="377.73" y1="137.55" x2="377.73" y2="140.35" stroke="#000" stroke-width="1.1" />
<line x1="381.47" y1="137.55" x2="381.47" y2="140.35" stroke="#000" stroke-width="1.1" />
<line x1="385.22" y1="137.55" x2="385.22" y2="142.75" stroke="#000" stroke-width="1.3" />
<line x1="388.96" y1="137.55" x2="388.96" y2="140.35" stroke="#000" stroke-width="1.1" />
<line x1="392.71" y1="137.55" x2="392.71" y2="140.35" stroke="#000" stroke-width="1.1" />
<line x1="396.45" y1="137.55" x2="396.45" y2="142.75" stroke="#000" stroke-width="1.3" />
<line x1="400.2" y1="137.55" x2="400.2" y2="140.35" stroke="#000" stroke-width="1.1" />
<line x1="403.94" y1="137.55" x2="403.94" y2="140.35" stroke="#000" stroke-width="1.1" />
<line x1="407.69" y1="137.55" x2="407.69" y2="142.75" stroke="#000" stroke-width="1.3" />
<line x1="411.43" y1="137.55" x2="411.43" y2="140.35" stroke="#000" stroke-width="1.1" />
<line x1="415.18" y1="137.55" x2="415.18" y2="140.35" stroke="#000" stroke-width="1.1" />
<line x1="418.92" y1="137.55" x2="418.92" y2="142.75" stroke="#000" stroke-width="1.3" />
<line x1="422.67" y1="137.55" x2="422.67" y2="140.35" stroke="#000" stroke-width="1.1" />
<line x1="426.41" y1="137.55" x2="426.41" y2="140.35" stroke="#000" stroke-width="1.1" />
<line x1="430.16" y1="137.55" x2="430.16" y2="142.75" stroke="#000" stroke-width="1.3" />
<line x1="433.9" y1="137.55" x2="433.9" y2="140.35" stroke="#000" stroke-width="1.1" />
<line x1="437.64" y1="137.55" x2="437.64" y2="140.35" stroke="#000" stroke-width="1.1" />
<line x1="441.39" y1="137.55" x2="441.39" y2="142.75" stroke="#000" stroke-width="1.3" />
<line x1="445.13" y1="137.55" x2="445.13" y2="140.35" stroke="#000" stroke-width="1.1" />
<text transform="translate(275.06,150.95) rotate(-45)" font-size="8.8" font-weight="bold" text-anchor="end">-30</text>
<text transform="translate(286.3,150.95) rotate(-45)" font-size="8.8" font-weight="bold" text-anchor="end">0</text>
<text transform="translate(297.54,150.95) rotate(-45)" font-size="8.8" font-weight="bold" text-anchor="end">30</text>
<text transform="translate(308.77,150.95) rotate(-45)" font-size="8.8" font-weight="bold" text-anchor="end">60</text>
<text transform="translate(320,150.95) rotate(-45)" font-size="8.8" font-weight="bold" text-anchor="end">90</text>
<text transform="translate(331.24,150.95) rotate(-45)" font-size="8.8" font-weight="bold" text-anchor="end">120</text>
<text transform="translate(342.48,150.95) rotate(-45)" font-size="8.8" font-weight="bold" text-anchor="end">150</text>
<text transform="translate(353.71,150.95) rotate(-45)" font-size="8.8" font-weight="bold" text-anchor="end">180</text>
<text transform="translate(364.94,150.95) rotate(-45)" font-size="8.8" font-weight="bold" text-anchor="end">210</text>
<text transform="translate(376.18,150.95) rotate(-45)" font-size="8.8" font-weight="bold" text-anchor="end">240</text>
<text transform="translate(387.42,150.95) rotate(-45)" font-size="8.8" font-weight="bold" text-anchor="end">270</text>
<text transform="translate(398.65,150.95) rotate(-45)" font-size="8.8" font-weight="bold" text-anchor="end">300</text>
<text transform="translate(409.88,150.95) rotate(-45)" font-size="8.8" font-weight="bold" text-anchor="end">330</text>
<text transform="translate(421.12,150.95) rotate(-45)" font-size="8.8" font-weight="bold" text-anchor="end">360</text>
<text transform="translate(432.36,150.95) rotate(-45)" font-size="8.8" font-weight="bold" text-anchor="end">390</text>
<text transform="translate(443.59,150.95) rotate(-45)" font-size="8.8" font-weight="bold" text-anchor="end">420</text>
<text x="357.4" y="173.5" font-size="9.7" font-weight="bold" text-anchor="middle" fill="#000" >Time (min)</text>
<text transform="translate(246.6,78.2) rotate(-90)" font-size="9.8" font-weight="bold" text-anchor="middle">ΔT<tspan font-size="6.8" dy="1.6">b</tspan><tspan dy="-1.6"> (°C)</tspan></text>
<text x="334.4" y="9.9" font-size="11.2" font-weight="bold" text-anchor="start" fill="#000" >Females</text>
<path d="M287.85 72.2V87.2M286.45 72.2h2.8M286.45 87.2h2.8" stroke="#ff2a2a" stroke-width="0.7" fill="none" opacity="0.75"/>
<path d="M291.59 91.1V112.7M290.19 91.1h2.8M290.19 112.7h2.8" stroke="#ff2a2a" stroke-width="0.7" fill="none" opacity="0.75"/>
<path d="M295.34 95.3V117.3M293.94 95.3h2.8M293.94 117.3h2.8" stroke="#ff2a2a" stroke-width="0.7" fill="none" opacity="0.75"/>
<path d="M299.08 100.5V122.5M297.68 100.5h2.8M297.68 122.5h2.8" stroke="#ff2a2a" stroke-width="0.7" fill="none" opacity="0.75"/>
<path d="M302.83 93.1V128.1M301.43 93.1h2.8M301.43 128.1h2.8" stroke="#ff2a2a" stroke-width="0.7" fill="none" opacity="0.75"/>
<path d="M306.57 92.8V130.2M305.17 92.8h2.8M305.17 130.2h2.8" stroke="#ff2a2a" stroke-width="0.7" fill="none" opacity="0.75"/>
<path d="M310.31 88.9V126.9M308.92 88.9h2.8M308.92 126.9h2.8" stroke="#ff2a2a" stroke-width="0.7" fill="none" opacity="0.75"/>
<path d="M314.06 90.3V122.3M312.66 90.3h2.8M312.66 122.3h2.8" stroke="#ff2a2a" stroke-width="0.7" fill="none" opacity="0.75"/>
<path d="M317.81 84.1V120.1M316.41 84.1h2.8M316.41 120.1h2.8" stroke="#ff2a2a" stroke-width="0.7" fill="none" opacity="0.75"/>
<path d="M321.55 87.5V115.5M320.15 87.5h2.8M320.15 115.5h2.8" stroke="#ff2a2a" stroke-width="0.7" fill="none" opacity="0.75"/>
<path d="M325.3 90.4V119.2M323.9 90.4h2.8M323.9 119.2h2.8" stroke="#ff2a2a" stroke-width="0.7" fill="none" opacity="0.75"/>
<path d="M329.04 88.4V118.4M327.64 88.4h2.8M327.64 118.4h2.8" stroke="#ff2a2a" stroke-width="0.7" fill="none" opacity="0.75"/>
<path d="M332.79 88.8V120.8M331.39 88.8h2.8M331.39 120.8h2.8" stroke="#ff2a2a" stroke-width="0.7" fill="none" opacity="0.75"/>
<path d="M336.53 91.3V118.3M335.13 91.3h2.8M335.13 118.3h2.8" stroke="#ff2a2a" stroke-width="0.7" fill="none" opacity="0.75"/>
<path d="M340.28 85.7V109.7M338.88 85.7h2.8M338.88 109.7h2.8" stroke="#ff2a2a" stroke-width="0.7" fill="none" opacity="0.75"/>
<path d="M344.02 85.7V106.9M342.62 85.7h2.8M342.62 106.9h2.8" stroke="#ff2a2a" stroke-width="0.7" fill="none" opacity="0.75"/>
<path d="M347.77 89.5V111.5M346.37 89.5h2.8M346.37 111.5h2.8" stroke="#ff2a2a" stroke-width="0.7" fill="none" opacity="0.75"/>
<path d="M351.51 87.9V109.9M350.11 87.9h2.8M350.11 109.9h2.8" stroke="#ff2a2a" stroke-width="0.7" fill="none" opacity="0.75"/>
<path d="M355.25 86.8V108.8M353.86 86.8h2.8M353.86 108.8h2.8" stroke="#ff2a2a" stroke-width="0.7" fill="none" opacity="0.75"/>
<path d="M359 88.3V110.3M357.6 88.3h2.8M357.6 110.3h2.8" stroke="#ff2a2a" stroke-width="0.7" fill="none" opacity="0.75"/>
<path d="M362.75 86.5V100.5M361.35 86.5h2.8M361.35 100.5h2.8" stroke="#ff2a2a" stroke-width="0.7" fill="none" opacity="0.75"/>
<path d="M366.49 84.7V95.5M365.09 84.7h2.8M365.09 95.5h2.8" stroke="#ff2a2a" stroke-width="0.7" fill="none" opacity="0.75"/>
<path d="M370.24 84.1V96.1M368.84 84.1h2.8M368.84 96.1h2.8" stroke="#ff2a2a" stroke-width="0.7" fill="none" opacity="0.75"/>
<path d="M373.98 84V96.6M372.58 84h2.8M372.58 96.6h2.8" stroke="#ff2a2a" stroke-width="0.7" fill="none" opacity="0.75"/>
<path d="M377.73 83.3V100.7M376.33 83.3h2.8M376.33 100.7h2.8" stroke="#ff2a2a" stroke-width="0.7" fill="none" opacity="0.75"/>
<path d="M381.47 75.3V93.3M380.07 75.3h2.8M380.07 93.3h2.8" stroke="#ff2a2a" stroke-width="0.7" fill="none" opacity="0.75"/>
<path d="M385.22 74.6V90.6M383.82 74.6h2.8M383.82 90.6h2.8" stroke="#ff2a2a" stroke-width="0.7" fill="none" opacity="0.75"/>
<path d="M388.96 88.4V101.8M387.56 88.4h2.8M387.56 101.8h2.8" stroke="#ff2a2a" stroke-width="0.7" fill="none" opacity="0.75"/>
<path d="M392.71 83.4V92.2M391.31 83.4h2.8M391.31 92.2h2.8" stroke="#ff2a2a" stroke-width="0.7" fill="none" opacity="0.75"/>
<path d="M396.45 80.3V87.5M395.05 80.3h2.8M395.05 87.5h2.8" stroke="#ff2a2a" stroke-width="0.7" fill="none" opacity="0.75"/>
<path d="M400.2 75.4V84.6M398.8 75.4h2.8M398.8 84.6h2.8" stroke="#ff2a2a" stroke-width="0.7" fill="none" opacity="0.75"/>
<path d="M403.94 72.1V83.3M402.54 72.1h2.8M402.54 83.3h2.8" stroke="#ff2a2a" stroke-width="0.7" fill="none" opacity="0.75"/>
<path d="M407.69 69V81.4M406.29 69h2.8M406.29 81.4h2.8" stroke="#ff2a2a" stroke-width="0.7" fill="none" opacity="0.75"/>
<path d="M411.43 71.7V76.9M410.03 71.7h2.8M410.03 76.9h2.8" stroke="#ff2a2a" stroke-width="0.7" fill="none" opacity="0.75"/>
<path d="M415.18 69.9V75.9M413.78 69.9h2.8M413.78 75.9h2.8" stroke="#ff2a2a" stroke-width="0.7" fill="none" opacity="0.75"/>
<path d="M418.92 67.2V74.4M417.52 67.2h2.8M417.52 74.4h2.8" stroke="#ff2a2a" stroke-width="0.7" fill="none" opacity="0.75"/>
<path d="M422.67 66.5V74.3M421.27 66.5h2.8M421.27 74.3h2.8" stroke="#ff2a2a" stroke-width="0.7" fill="none" opacity="0.75"/>
<path d="M426.41 66.8V74M425.01 66.8h2.8M425.01 74h2.8" stroke="#ff2a2a" stroke-width="0.7" fill="none" opacity="0.75"/>
<path d="M430.16 69V75M428.76 69h2.8M428.76 75h2.8" stroke="#ff2a2a" stroke-width="0.7" fill="none" opacity="0.75"/>
<path d="M433.9 64.3V73.5M432.5 64.3h2.8M432.5 73.5h2.8" stroke="#ff2a2a" stroke-width="0.7" fill="none" opacity="0.75"/>
<path d="M437.64 64.2V72M436.25 64.2h2.8M436.25 72h2.8" stroke="#ff2a2a" stroke-width="0.7" fill="none" opacity="0.75"/>
<path d="M441.39 61.1V68.9M439.99 61.1h2.8M439.99 68.9h2.8" stroke="#ff2a2a" stroke-width="0.7" fill="none" opacity="0.75"/>
<path d="M272.87 37.5 L276.61 35.3 L280.36 38.3 L284.1 38.6 L287.85 79.7 L291.59 101.9 L295.34 106.3 L299.08 111.5 L302.83 110.6 L306.57 111.5 L310.31 107.9 L314.06 106.3 L317.81 102.1 L321.55 101.5 L325.3 104.8 L329.04 103.4 L332.79 104.8 L336.53 104.8 L340.28 97.7 L344.02 96.3 L347.77 100.5 L351.51 98.9 L355.25 97.8 L359 99.3 L362.75 93.5 L366.49 90.1 L370.24 90.1 L373.98 90.3 L377.73 92 L381.47 84.3 L385.22 82.6 L388.96 95.1 L392.71 87.8 L396.45 83.9 L400.2 80 L403.94 77.7 L407.69 75.2 L411.43 74.3 L415.18 72.9 L418.92 70.8 L422.67 70.4 L426.41 70.4 L430.16 72 L433.9 68.9 L437.64 68.1 L441.39 65" stroke="#ff0000" stroke-width="0.7" fill="none" opacity="0.85"/>
<circle cx="272.87" cy="37.5" r="1.55" fill="#ff0000"/>
<circle cx="276.61" cy="35.3" r="1.55" fill="#ff0000"/>
<circle cx="280.36" cy="38.3" r="1.55" fill="#ff0000"/>
<circle cx="284.1" cy="38.6" r="1.55" fill="#ff0000"/>
<circle cx="287.85" cy="79.7" r="1.55" fill="#ff0000"/>
<circle cx="291.59" cy="101.9" r="1.55" fill="#ff0000"/>
<circle cx="295.34" cy="106.3" r="1.55" fill="#ff0000"/>
<circle cx="299.08" cy="111.5" r="1.55" fill="#ff0000"/>
<circle cx="302.83" cy="110.6" r="1.55" fill="#ff0000"/>
<circle cx="306.57" cy="111.5" r="1.55" fill="#ff0000"/>
<circle cx="310.31" cy="107.9" r="1.55" fill="#ff0000"/>
<circle cx="314.06" cy="106.3" r="1.55" fill="#ff0000"/>
<circle cx="317.81" cy="102.1" r="1.55" fill="#ff0000"/>
<circle cx="321.55" cy="101.5" r="1.55" fill="#ff0000"/>
<circle cx="325.3" cy="104.8" r="1.55" fill="#ff0000"/>
<circle cx="329.04" cy="103.4" r="1.55" fill="#ff0000"/>
<circle cx="332.79" cy="104.8" r="1.55" fill="#ff0000"/>
<circle cx="336.53" cy="104.8" r="1.55" fill="#ff0000"/>
<circle cx="340.28" cy="97.7" r="1.55" fill="#ff0000"/>
<circle cx="344.02" cy="96.3" r="1.55" fill="#ff0000"/>
<circle cx="347.77" cy="100.5" r="1.55" fill="#ff0000"/>
<circle cx="351.51" cy="98.9" r="1.55" fill="#ff0000"/>
<circle cx="355.25" cy="97.8" r="1.55" fill="#ff0000"/>
<circle cx="359" cy="99.3" r="1.55" fill="#ff0000"/>
<circle cx="362.75" cy="93.5" r="1.55" fill="#ff0000"/>
<circle cx="366.49" cy="90.1" r="1.55" fill="#ff0000"/>
<circle cx="370.24" cy="90.1" r="1.55" fill="#ff0000"/>
<circle cx="373.98" cy="90.3" r="1.55" fill="#ff0000"/>
<circle cx="377.73" cy="92" r="1.55" fill="#ff0000"/>
<circle cx="381.47" cy="84.3" r="1.55" fill="#ff0000"/>
<circle cx="385.22" cy="82.6" r="1.55" fill="#ff0000"/>
<circle cx="388.96" cy="95.1" r="1.55" fill="#ff0000"/>
<circle cx="392.71" cy="87.8" r="1.55" fill="#ff0000"/>
<circle cx="396.45" cy="83.9" r="1.55" fill="#ff0000"/>
<circle cx="400.2" cy="80" r="1.55" fill="#ff0000"/>
<circle cx="403.94" cy="77.7" r="1.55" fill="#ff0000"/>
<circle cx="407.69" cy="75.2" r="1.55" fill="#ff0000"/>
<circle cx="411.43" cy="74.3" r="1.55" fill="#ff0000"/>
<circle cx="415.18" cy="72.9" r="1.55" fill="#ff0000"/>
<circle cx="418.92" cy="70.8" r="1.55" fill="#ff0000"/>
<circle cx="422.67" cy="70.4" r="1.55" fill="#ff0000"/>
<circle cx="426.41" cy="70.4" r="1.55" fill="#ff0000"/>
<circle cx="430.16" cy="72" r="1.55" fill="#ff0000"/>
<circle cx="433.9" cy="68.9" r="1.55" fill="#ff0000"/>
<circle cx="437.64" cy="68.1" r="1.55" fill="#ff0000"/>
<circle cx="441.39" cy="65" r="1.55" fill="#ff0000"/>
<path d="M287.85 42.1V45.1M286.45 42.1h2.8M286.45 45.1h2.8" stroke="#222" stroke-width="0.7" fill="none" opacity="0.8"/>
<path d="M291.59 43V46M290.19 43h2.8M290.19 46h2.8" stroke="#222" stroke-width="0.7" fill="none" opacity="0.8"/>
<path d="M295.34 44.4V46.8M293.94 44.4h2.8M293.94 46.8h2.8" stroke="#222" stroke-width="0.7" fill="none" opacity="0.8"/>
<path d="M299.08 39.6V43.6M297.68 39.6h2.8M297.68 43.6h2.8" stroke="#222" stroke-width="0.7" fill="none" opacity="0.8"/>
<path d="M302.83 41.9V45.9M301.43 41.9h2.8M301.43 45.9h2.8" stroke="#222" stroke-width="0.7" fill="none" opacity="0.8"/>
<path d="M306.57 44.4V46.8M305.17 44.4h2.8M305.17 46.8h2.8" stroke="#222" stroke-width="0.7" fill="none" opacity="0.8"/>
<path d="M310.31 42.7V45.1M308.92 42.7h2.8M308.92 45.1h2.8" stroke="#222" stroke-width="0.7" fill="none" opacity="0.8"/>
<path d="M314.06 46.2V48.6M312.66 46.2h2.8M312.66 48.6h2.8" stroke="#222" stroke-width="0.7" fill="none" opacity="0.8"/>
<path d="M317.81 45.4V48.4M316.41 45.4h2.8M316.41 48.4h2.8" stroke="#222" stroke-width="0.7" fill="none" opacity="0.8"/>
<path d="M321.55 44.7V48.3M320.15 44.7h2.8M320.15 48.3h2.8" stroke="#222" stroke-width="0.7" fill="none" opacity="0.8"/>
<path d="M325.3 45.6V50M323.9 45.6h2.8M323.9 50h2.8" stroke="#222" stroke-width="0.7" fill="none" opacity="0.8"/>
<path d="M329.04 42V47M327.64 42h2.8M327.64 47h2.8" stroke="#222" stroke-width="0.7" fill="none" opacity="0.8"/>
<path d="M332.79 44.2V48.2M331.39 44.2h2.8M331.39 48.2h2.8" stroke="#222" stroke-width="0.7" fill="none" opacity="0.8"/>
<path d="M336.53 47.6V50.6M335.13 47.6h2.8M335.13 50.6h2.8" stroke="#222" stroke-width="0.7" fill="none" opacity="0.8"/>
<path d="M340.28 46.7V49.7M338.88 46.7h2.8M338.88 49.7h2.8" stroke="#222" stroke-width="0.7" fill="none" opacity="0.8"/>
<path d="M344.02 47.6V50.6M342.62 47.6h2.8M342.62 50.6h2.8" stroke="#222" stroke-width="0.7" fill="none" opacity="0.8"/>
<path d="M347.77 43.3V48.3M346.37 43.3h2.8M346.37 48.3h2.8" stroke="#222" stroke-width="0.7" fill="none" opacity="0.8"/>
<path d="M351.51 46V51M350.11 46h2.8M350.11 51h2.8" stroke="#222" stroke-width="0.7" fill="none" opacity="0.8"/>
<path d="M355.25 46.5V51.5M353.86 46.5h2.8M353.86 51.5h2.8" stroke="#222" stroke-width="0.7" fill="none" opacity="0.8"/>
<path d="M359 46.1V51.1M357.6 46.1h2.8M357.6 51.1h2.8" stroke="#222" stroke-width="0.7" fill="none" opacity="0.8"/>
<path d="M362.75 46.4V51.4M361.35 46.4h2.8M361.35 51.4h2.8" stroke="#222" stroke-width="0.7" fill="none" opacity="0.8"/>
<path d="M366.49 45.9V50.9M365.09 45.9h2.8M365.09 50.9h2.8" stroke="#222" stroke-width="0.7" fill="none" opacity="0.8"/>
<path d="M370.24 46.5V51.5M368.84 46.5h2.8M368.84 51.5h2.8" stroke="#222" stroke-width="0.7" fill="none" opacity="0.8"/>
<path d="M373.98 48V53M372.58 48h2.8M372.58 53h2.8" stroke="#222" stroke-width="0.7" fill="none" opacity="0.8"/>
<path d="M377.73 48.4V53.4M376.33 48.4h2.8M376.33 53.4h2.8" stroke="#222" stroke-width="0.7" fill="none" opacity="0.8"/>
<path d="M381.47 45.6V50.6M380.07 45.6h2.8M380.07 50.6h2.8" stroke="#222" stroke-width="0.7" fill="none" opacity="0.8"/>
<path d="M385.22 46.3V51.3M383.82 46.3h2.8M383.82 51.3h2.8" stroke="#222" stroke-width="0.7" fill="none" opacity="0.8"/>
<path d="M388.96 47V52M387.56 47h2.8M387.56 52h2.8" stroke="#222" stroke-width="0.7" fill="none" opacity="0.8"/>
<path d="M392.71 44.2V49.2M391.31 44.2h2.8M391.31 49.2h2.8" stroke="#222" stroke-width="0.7" fill="none" opacity="0.8"/>
<path d="M396.45 47.7V52.7M395.05 47.7h2.8M395.05 52.7h2.8" stroke="#222" stroke-width="0.7" fill="none" opacity="0.8"/>
<path d="M400.2 48V53M398.8 48h2.8M398.8 53h2.8" stroke="#222" stroke-width="0.7" fill="none" opacity="0.8"/>
<path d="M403.94 48.4V53.4M402.54 48.4h2.8M402.54 53.4h2.8" stroke="#222" stroke-width="0.7" fill="none" opacity="0.8"/>
<path d="M407.69 50.5V55.5M406.29 50.5h2.8M406.29 55.5h2.8" stroke="#222" stroke-width="0.7" fill="none" opacity="0.8"/>
<path d="M411.43 51.2V56.2M410.03 51.2h2.8M410.03 56.2h2.8" stroke="#222" stroke-width="0.7" fill="none" opacity="0.8"/>
<path d="M415.18 49.8V54.8M413.78 49.8h2.8M413.78 54.8h2.8" stroke="#222" stroke-width="0.7" fill="none" opacity="0.8"/>
<path d="M418.92 52.3V57.3M417.52 52.3h2.8M417.52 57.3h2.8" stroke="#222" stroke-width="0.7" fill="none" opacity="0.8"/>
<path d="M422.67 50.5V55.5M421.27 50.5h2.8M421.27 55.5h2.8" stroke="#222" stroke-width="0.7" fill="none" opacity="0.8"/>
<path d="M426.41 47V52M425.01 47h2.8M425.01 52h2.8" stroke="#222" stroke-width="0.7" fill="none" opacity="0.8"/>
<path d="M430.16 50.7V55.7M428.76 50.7h2.8M428.76 55.7h2.8" stroke="#222" stroke-width="0.7" fill="none" opacity="0.8"/>
<path d="M433.9 52.8V57.8M432.5 52.8h2.8M432.5 57.8h2.8" stroke="#222" stroke-width="0.7" fill="none" opacity="0.8"/>
<path d="M437.64 52.5V57.5M436.25 52.5h2.8M436.25 57.5h2.8" stroke="#222" stroke-width="0.7" fill="none" opacity="0.8"/>
<path d="M441.39 51.9V56.9M439.99 51.9h2.8M439.99 56.9h2.8" stroke="#222" stroke-width="0.7" fill="none" opacity="0.8"/>
<path d="M272.87 37 L276.61 37.9 L280.36 37.5 L284.1 37.9 L287.85 43.6 L291.59 44.5 L295.34 45.6 L299.08 41.6 L302.83 43.9 L306.57 45.6 L310.31 43.9 L314.06 47.4 L317.81 46.9 L321.55 46.5 L325.3 47.8 L329.04 44.5 L332.79 46.2 L336.53 49.1 L340.28 48.2 L344.02 49.1 L347.77 45.8 L351.51 48.5 L355.25 49 L359 48.6 L362.75 48.9 L366.49 48.4 L370.24 49 L373.98 50.5 L377.73 50.9 L381.47 48.1 L385.22 48.8 L388.96 49.5 L392.71 46.7 L396.45 50.2 L400.2 50.5 L403.94 50.9 L407.69 53 L411.43 53.7 L415.18 52.3 L418.92 54.8 L422.67 53 L426.41 49.5 L430.16 53.2 L433.9 55.3 L437.64 55 L441.39 54.4" stroke="#000" stroke-width="0.7" fill="none" opacity="0.85"/>
<circle cx="272.87" cy="37" r="1.55" fill="#000"/>
<circle cx="276.61" cy="37.9" r="1.55" fill="#000"/>
<circle cx="280.36" cy="37.5" r="1.55" fill="#000"/>
<circle cx="284.1" cy="37.9" r="1.55" fill="#000"/>
<circle cx="287.85" cy="43.6" r="1.55" fill="#000"/>
<circle cx="291.59" cy="44.5" r="1.55" fill="#000"/>
<circle cx="295.34" cy="45.6" r="1.55" fill="#000"/>
<circle cx="299.08" cy="41.6" r="1.55" fill="#000"/>
<circle cx="302.83" cy="43.9" r="1.55" fill="#000"/>
<circle cx="306.57" cy="45.6" r="1.55" fill="#000"/>
<circle cx="310.31" cy="43.9" r="1.55" fill="#000"/>
<circle cx="314.06" cy="47.4" r="1.55" fill="#000"/>
<circle cx="317.81" cy="46.9" r="1.55" fill="#000"/>
<circle cx="321.55" cy="46.5" r="1.55" fill="#000"/>
<circle cx="325.3" cy="47.8" r="1.55" fill="#000"/>
<circle cx="329.04" cy="44.5" r="1.55" fill="#000"/>
<circle cx="332.79" cy="46.2" r="1.55" fill="#000"/>
<circle cx="336.53" cy="49.1" r="1.55" fill="#000"/>
<circle cx="340.28" cy="48.2" r="1.55" fill="#000"/>
<circle cx="344.02" cy="49.1" r="1.55" fill="#000"/>
<circle cx="347.77" cy="45.8" r="1.55" fill="#000"/>
<circle cx="351.51" cy="48.5" r="1.55" fill="#000"/>
<circle cx="355.25" cy="49" r="1.55" fill="#000"/>
<circle cx="359" cy="48.6" r="1.55" fill="#000"/>
<circle cx="362.75" cy="48.9" r="1.55" fill="#000"/>
<circle cx="366.49" cy="48.4" r="1.55" fill="#000"/>
<circle cx="370.24" cy="49" r="1.55" fill="#000"/>
<circle cx="373.98" cy="50.5" r="1.55" fill="#000"/>
<circle cx="377.73" cy="50.9" r="1.55" fill="#000"/>
<circle cx="381.47" cy="48.1" r="1.55" fill="#000"/>
<circle cx="385.22" cy="48.8" r="1.55" fill="#000"/>
<circle cx="388.96" cy="49.5" r="1.55" fill="#000"/>
<circle cx="392.71" cy="46.7" r="1.55" fill="#000"/>
<circle cx="396.45" cy="50.2" r="1.55" fill="#000"/>
<circle cx="400.2" cy="50.5" r="1.55" fill="#000"/>
<circle cx="403.94" cy="50.9" r="1.55" fill="#000"/>
<circle cx="407.69" cy="53" r="1.55" fill="#000"/>
<circle cx="411.43" cy="53.7" r="1.55" fill="#000"/>
<circle cx="415.18" cy="52.3" r="1.55" fill="#000"/>
<circle cx="418.92" cy="54.8" r="1.55" fill="#000"/>
<circle cx="422.67" cy="53" r="1.55" fill="#000"/>
<circle cx="426.41" cy="49.5" r="1.55" fill="#000"/>
<circle cx="430.16" cy="53.2" r="1.55" fill="#000"/>
<circle cx="433.9" cy="55.3" r="1.55" fill="#000"/>
<circle cx="437.64" cy="55" r="1.55" fill="#000"/>
<circle cx="441.39" cy="54.4" r="1.55" fill="#000"/>
<line x1="385.3" y1="129.1" x2="398.1" y2="129.1" stroke="#999" stroke-width="1.0" />
<circle cx="391.7" cy="129.1" r="1.35" fill="#000"/>
<text x="404.5" y="131.3" font-size="6.4" font-weight="normal" text-anchor="start" fill="#222" stroke="#222" stroke-width="0.15">Vehicle</text>
<line x1="385.3" y1="134.4" x2="398.1" y2="134.4" stroke="#ff4040" stroke-width="1.0" />
<circle cx="391.7" cy="134.4" r="1.35" fill="#ff0000"/>
<text x="404.5" y="136.6" font-size="6.4" font-weight="normal" text-anchor="start" fill="#222" stroke="#222" stroke-width="0.15">Capsinoid</text>
<path d="M435.7 128.3H438.2V134.9H435.7" stroke="#333" stroke-width="0.8" fill="none"/>
<text x="442" y="136.8" font-size="9.2" font-weight="normal" text-anchor="start" fill="#222" >**</text>
<line x1="506.4" y1="36.1" x2="678.8" y2="36.1" stroke="#222" stroke-width="1.1" stroke-dasharray="1.25 2.3"/>
<line x1="520.5" y1="28" x2="520.5" y2="136.8" stroke="#7070ff" stroke-width="0.9" stroke-dasharray="1.3 1.6"/>
<line x1="554.3" y1="28" x2="554.3" y2="136.8" stroke="#7070ff" stroke-width="0.9" stroke-dasharray="1.3 1.6"/>
<line x1="588.1" y1="18.2" x2="588.1" y2="136.8" stroke="#7070ff" stroke-width="0.9" stroke-dasharray="1.3 1.6"/>
<line x1="621.9" y1="18.2" x2="621.9" y2="136.8" stroke="#7070ff" stroke-width="0.9" stroke-dasharray="1.3 1.6"/>
<text x="513.3" y="25.6" font-size="6.7" font-weight="normal" text-anchor="start" fill="#2222ff" stroke="#2222ff" stroke-width="0.22" textLength="47.6" lengthAdjust="spacingAndGlyphs">IP administration</text>
<line x1="505.4" y1="18.65" x2="505.4" y2="137.5" stroke="#000" stroke-width="1.5" />
<line x1="500.2" y1="136.6" x2="505.4" y2="136.6" stroke="#000" stroke-width="1.3" />
<text transform="translate(497.9,139.9) scale(0.9,1)" font-size="9.3" font-weight="bold" text-anchor="end">-6</text>
<line x1="500.2" y1="119.85" x2="505.4" y2="119.85" stroke="#000" stroke-width="1.3" />
<text transform="translate(497.9,123.15) scale(0.9,1)" font-size="9.3" font-weight="bold" text-anchor="end">-5</text>
<line x1="500.2" y1="103.1" x2="505.4" y2="103.1" stroke="#000" stroke-width="1.3" />
<text transform="translate(497.9,106.4) scale(0.9,1)" font-size="9.3" font-weight="bold" text-anchor="end">-4</text>
<line x1="500.2" y1="86.35" x2="505.4" y2="86.35" stroke="#000" stroke-width="1.3" />
<text transform="translate(497.9,89.65) scale(0.9,1)" font-size="9.3" font-weight="bold" text-anchor="end">-3</text>
<line x1="500.2" y1="69.6" x2="505.4" y2="69.6" stroke="#000" stroke-width="1.3" />
<text transform="translate(497.9,72.9) scale(0.9,1)" font-size="9.3" font-weight="bold" text-anchor="end">-2</text>
<line x1="500.2" y1="52.85" x2="505.4" y2="52.85" stroke="#000" stroke-width="1.3" />
<text transform="translate(497.9,56.15) scale(0.9,1)" font-size="9.3" font-weight="bold" text-anchor="end">-1</text>
<line x1="500.2" y1="36.1" x2="505.4" y2="36.1" stroke="#000" stroke-width="1.3" />
<text transform="translate(497.9,39.4) scale(0.9,1)" font-size="9.3" font-weight="bold" text-anchor="end">0</text>
<line x1="500.2" y1="19.35" x2="505.4" y2="19.35" stroke="#000" stroke-width="1.3" />
<text transform="translate(497.9,22.65) scale(0.9,1)" font-size="9.3" font-weight="bold" text-anchor="end">1</text>
<line x1="502.6" y1="128.22" x2="505.4" y2="128.22" stroke="#000" stroke-width="1.1" />
<line x1="502.6" y1="111.47" x2="505.4" y2="111.47" stroke="#000" stroke-width="1.1" />
<line x1="502.6" y1="94.72" x2="505.4" y2="94.72" stroke="#000" stroke-width="1.1" />
<line x1="502.6" y1="77.97" x2="505.4" y2="77.97" stroke="#000" stroke-width="1.1" />
<line x1="502.6" y1="61.23" x2="505.4" y2="61.23" stroke="#000" stroke-width="1.1" />
<line x1="502.6" y1="44.48" x2="505.4" y2="44.48" stroke="#000" stroke-width="1.1" />
<line x1="502.6" y1="27.73" x2="505.4" y2="27.73" stroke="#000" stroke-width="1.1" />
<line x1="504.7" y1="136.8" x2="682.61" y2="136.8" stroke="#000" stroke-width="1.6" />
<line x1="509.23" y1="136.8" x2="509.23" y2="142" stroke="#000" stroke-width="1.3" />
<line x1="512.99" y1="136.8" x2="512.99" y2="139.6" stroke="#000" stroke-width="1.1" />
<line x1="516.74" y1="136.8" x2="516.74" y2="139.6" stroke="#000" stroke-width="1.1" />
<line x1="520.5" y1="136.8" x2="520.5" y2="142" stroke="#000" stroke-width="1.3" />
<line x1="524.26" y1="136.8" x2="524.26" y2="139.6" stroke="#000" stroke-width="1.1" />
<line x1="528.01" y1="136.8" x2="528.01" y2="139.6" stroke="#000" stroke-width="1.1" />
<line x1="531.77" y1="136.8" x2="531.77" y2="142" stroke="#000" stroke-width="1.3" />
<line x1="535.52" y1="136.8" x2="535.52" y2="139.6" stroke="#000" stroke-width="1.1" />
<line x1="539.28" y1="136.8" x2="539.28" y2="139.6" stroke="#000" stroke-width="1.1" />
<line x1="543.04" y1="136.8" x2="543.04" y2="142" stroke="#000" stroke-width="1.3" />
<line x1="546.79" y1="136.8" x2="546.79" y2="139.6" stroke="#000" stroke-width="1.1" />
<line x1="550.55" y1="136.8" x2="550.55" y2="139.6" stroke="#000" stroke-width="1.1" />
<line x1="554.3" y1="136.8" x2="554.3" y2="142" stroke="#000" stroke-width="1.3" />
<line x1="558.06" y1="136.8" x2="558.06" y2="139.6" stroke="#000" stroke-width="1.1" />
<line x1="561.82" y1="136.8" x2="561.82" y2="139.6" stroke="#000" stroke-width="1.1" />
<line x1="565.57" y1="136.8" x2="565.57" y2="142" stroke="#000" stroke-width="1.3" />
<line x1="569.33" y1="136.8" x2="569.33" y2="139.6" stroke="#000" stroke-width="1.1" />
<line x1="573.08" y1="136.8" x2="573.08" y2="139.6" stroke="#000" stroke-width="1.1" />
<line x1="576.84" y1="136.8" x2="576.84" y2="142" stroke="#000" stroke-width="1.3" />
<line x1="580.6" y1="136.8" x2="580.6" y2="139.6" stroke="#000" stroke-width="1.1" />
<line x1="584.35" y1="136.8" x2="584.35" y2="139.6" stroke="#000" stroke-width="1.1" />
<line x1="588.11" y1="136.8" x2="588.11" y2="142" stroke="#000" stroke-width="1.3" />
<line x1="591.86" y1="136.8" x2="591.86" y2="139.6" stroke="#000" stroke-width="1.1" />
<line x1="595.62" y1="136.8" x2="595.62" y2="139.6" stroke="#000" stroke-width="1.1" />
<line x1="599.38" y1="136.8" x2="599.38" y2="142" stroke="#000" stroke-width="1.3" />
<line x1="603.13" y1="136.8" x2="603.13" y2="139.6" stroke="#000" stroke-width="1.1" />
<line x1="606.89" y1="136.8" x2="606.89" y2="139.6" stroke="#000" stroke-width="1.1" />
<line x1="610.64" y1="136.8" x2="610.64" y2="142" stroke="#000" stroke-width="1.3" />
<line x1="614.4" y1="136.8" x2="614.4" y2="139.6" stroke="#000" stroke-width="1.1" />
<line x1="618.16" y1="136.8" x2="618.16" y2="139.6" stroke="#000" stroke-width="1.1" />
<line x1="621.91" y1="136.8" x2="621.91" y2="142" stroke="#000" stroke-width="1.3" />
<line x1="625.67" y1="136.8" x2="625.67" y2="139.6" stroke="#000" stroke-width="1.1" />
<line x1="629.42" y1="136.8" x2="629.42" y2="139.6" stroke="#000" stroke-width="1.1" />
<line x1="633.18" y1="136.8" x2="633.18" y2="142" stroke="#000" stroke-width="1.3" />
<line x1="636.94" y1="136.8" x2="636.94" y2="139.6" stroke="#000" stroke-width="1.1" />
<line x1="640.69" y1="136.8" x2="640.69" y2="139.6" stroke="#000" stroke-width="1.1" />
<line x1="644.45" y1="136.8" x2="644.45" y2="142" stroke="#000" stroke-width="1.3" />
<line x1="648.2" y1="136.8" x2="648.2" y2="139.6" stroke="#000" stroke-width="1.1" />
<line x1="651.96" y1="136.8" x2="651.96" y2="139.6" stroke="#000" stroke-width="1.1" />
<line x1="655.72" y1="136.8" x2="655.72" y2="142" stroke="#000" stroke-width="1.3" />
<line x1="659.47" y1="136.8" x2="659.47" y2="139.6" stroke="#000" stroke-width="1.1" />
<line x1="663.23" y1="136.8" x2="663.23" y2="139.6" stroke="#000" stroke-width="1.1" />
<line x1="666.98" y1="136.8" x2="666.98" y2="142" stroke="#000" stroke-width="1.3" />
<line x1="670.74" y1="136.8" x2="670.74" y2="139.6" stroke="#000" stroke-width="1.1" />
<line x1="674.5" y1="136.8" x2="674.5" y2="139.6" stroke="#000" stroke-width="1.1" />
<line x1="678.25" y1="136.8" x2="678.25" y2="142" stroke="#000" stroke-width="1.3" />
<line x1="682.01" y1="136.8" x2="682.01" y2="139.6" stroke="#000" stroke-width="1.1" />
<text transform="translate(511.43,150.2) rotate(-45)" font-size="8.8" font-weight="bold" text-anchor="end">-30</text>
<text transform="translate(522.7,150.2) rotate(-45)" font-size="8.8" font-weight="bold" text-anchor="end">0</text>
<text transform="translate(533.97,150.2) rotate(-45)" font-size="8.8" font-weight="bold" text-anchor="end">30</text>
<text transform="translate(545.24,150.2) rotate(-45)" font-size="8.8" font-weight="bold" text-anchor="end">60</text>
<text transform="translate(556.5,150.2) rotate(-45)" font-size="8.8" font-weight="bold" text-anchor="end">90</text>
<text transform="translate(567.77,150.2) rotate(-45)" font-size="8.8" font-weight="bold" text-anchor="end">120</text>
<text transform="translate(579.04,150.2) rotate(-45)" font-size="8.8" font-weight="bold" text-anchor="end">150</text>
<text transform="translate(590.31,150.2) rotate(-45)" font-size="8.8" font-weight="bold" text-anchor="end">180</text>
<text transform="translate(601.58,150.2) rotate(-45)" font-size="8.8" font-weight="bold" text-anchor="end">210</text>
<text transform="translate(612.84,150.2) rotate(-45)" font-size="8.8" font-weight="bold" text-anchor="end">240</text>
<text transform="translate(624.11,150.2) rotate(-45)" font-size="8.8" font-weight="bold" text-anchor="end">270</text>
<text transform="translate(635.38,150.2) rotate(-45)" font-size="8.8" font-weight="bold" text-anchor="end">300</text>
<text transform="translate(646.65,150.2) rotate(-45)" font-size="8.8" font-weight="bold" text-anchor="end">330</text>
<text transform="translate(657.92,150.2) rotate(-45)" font-size="8.8" font-weight="bold" text-anchor="end">360</text>
<text transform="translate(669.18,150.2) rotate(-45)" font-size="8.8" font-weight="bold" text-anchor="end">390</text>
<text transform="translate(680.45,150.2) rotate(-45)" font-size="8.8" font-weight="bold" text-anchor="end">420</text>
<text x="593.9" y="172.6" font-size="9.7" font-weight="bold" text-anchor="middle" fill="#000" >Time (min)</text>
<text transform="translate(482.6,77.8) rotate(-90)" font-size="9.8" font-weight="bold" text-anchor="middle">ΔT<tspan font-size="6.8" dy="1.6">b</tspan><tspan dy="-1.6"> (°C)</tspan></text>
<text x="578" y="9.9" font-size="11.2" font-weight="bold" text-anchor="start" fill="#000" >Males</text>
<path d="M524.26 48.5V65.1M522.86 48.5h2.8M522.86 65.1h2.8" stroke="#ff2a2a" stroke-width="0.7" fill="none" opacity="0.75"/>
<path d="M528.01 70.1V80.1M526.61 70.1h2.8M526.61 80.1h2.8" stroke="#ff2a2a" stroke-width="0.7" fill="none" opacity="0.75"/>
<path d="M531.77 85.8V99.8M530.37 85.8h2.8M530.37 99.8h2.8" stroke="#ff2a2a" stroke-width="0.7" fill="none" opacity="0.75"/>
<path d="M535.52 88.8V98.8M534.12 88.8h2.8M534.12 98.8h2.8" stroke="#ff2a2a" stroke-width="0.7" fill="none" opacity="0.75"/>
<path d="M539.28 91V99.6M537.88 91h2.8M537.88 99.6h2.8" stroke="#ff2a2a" stroke-width="0.7" fill="none" opacity="0.75"/>
<path d="M543.04 88.6V97M541.64 88.6h2.8M541.64 97h2.8" stroke="#ff2a2a" stroke-width="0.7" fill="none" opacity="0.75"/>
<path d="M546.79 82.1V92.1M545.39 82.1h2.8M545.39 92.1h2.8" stroke="#ff2a2a" stroke-width="0.7" fill="none" opacity="0.75"/>
<path d="M550.55 85.3V102.3M549.15 85.3h2.8M549.15 102.3h2.8" stroke="#ff2a2a" stroke-width="0.7" fill="none" opacity="0.75"/>
<path d="M554.3 83.9V100.9M552.9 83.9h2.8M552.9 100.9h2.8" stroke="#ff2a2a" stroke-width="0.7" fill="none" opacity="0.75"/>
<path d="M558.06 87.6V105M556.66 87.6h2.8M556.66 105h2.8" stroke="#ff2a2a" stroke-width="0.7" fill="none" opacity="0.75"/>
<path d="M561.82 89.9V106.5M560.42 89.9h2.8M560.42 106.5h2.8" stroke="#ff2a2a" stroke-width="0.7" fill="none" opacity="0.75"/>
<path d="M565.57 91.8V109.2M564.17 91.8h2.8M564.17 109.2h2.8" stroke="#ff2a2a" stroke-width="0.7" fill="none" opacity="0.75"/>
<path d="M569.33 90.6V108.6M567.93 90.6h2.8M567.93 108.6h2.8" stroke="#ff2a2a" stroke-width="0.7" fill="none" opacity="0.75"/>
<path d="M573.08 91.5V108.9M571.68 91.5h2.8M571.68 108.9h2.8" stroke="#ff2a2a" stroke-width="0.7" fill="none" opacity="0.75"/>
<path d="M576.84 94.9V110.9M575.44 94.9h2.8M575.44 110.9h2.8" stroke="#ff2a2a" stroke-width="0.7" fill="none" opacity="0.75"/>
<path d="M580.6 91.6V107.6M579.2 91.6h2.8M579.2 107.6h2.8" stroke="#ff2a2a" stroke-width="0.7" fill="none" opacity="0.75"/>
<path d="M584.35 84.9V98.9M582.95 84.9h2.8M582.95 98.9h2.8" stroke="#ff2a2a" stroke-width="0.7" fill="none" opacity="0.75"/>
<path d="M588.11 86.7V99.7M586.71 86.7h2.8M586.71 99.7h2.8" stroke="#ff2a2a" stroke-width="0.7" fill="none" opacity="0.75"/>
<path d="M591.86 97.9V112.9M590.46 97.9h2.8M590.46 112.9h2.8" stroke="#ff2a2a" stroke-width="0.7" fill="none" opacity="0.75"/>
<path d="M595.62 96.8V112.8M594.22 96.8h2.8M594.22 112.8h2.8" stroke="#ff2a2a" stroke-width="0.7" fill="none" opacity="0.75"/>
<path d="M599.38 98.4V114.4M597.98 98.4h2.8M597.98 114.4h2.8" stroke="#ff2a2a" stroke-width="0.7" fill="none" opacity="0.75"/>
<path d="M603.13 100.9V116.9M601.73 100.9h2.8M601.73 116.9h2.8" stroke="#ff2a2a" stroke-width="0.7" fill="none" opacity="0.75"/>
<path d="M606.89 100.3V116.3M605.49 100.3h2.8M605.49 116.3h2.8" stroke="#ff2a2a" stroke-width="0.7" fill="none" opacity="0.75"/>
<path d="M610.64 98.8V114.8M609.24 98.8h2.8M609.24 114.8h2.8" stroke="#ff2a2a" stroke-width="0.7" fill="none" opacity="0.75"/>
<path d="M614.4 96.8V116.8M613 96.8h2.8M613 116.8h2.8" stroke="#ff2a2a" stroke-width="0.7" fill="none" opacity="0.75"/>
<path d="M618.16 92.5V114.5M616.76 92.5h2.8M616.76 114.5h2.8" stroke="#ff2a2a" stroke-width="0.7" fill="none" opacity="0.75"/>
<path d="M621.91 88.3V108.3M620.51 88.3h2.8M620.51 108.3h2.8" stroke="#ff2a2a" stroke-width="0.7" fill="none" opacity="0.75"/>
<path d="M625.67 87.1V107.1M624.27 87.1h2.8M624.27 107.1h2.8" stroke="#ff2a2a" stroke-width="0.7" fill="none" opacity="0.75"/>
<path d="M629.42 87V111M628.02 87h2.8M628.02 111h2.8" stroke="#ff2a2a" stroke-width="0.7" fill="none" opacity="0.75"/>
<path d="M633.18 87.1V112.1M631.78 87.1h2.8M631.78 112.1h2.8" stroke="#ff2a2a" stroke-width="0.7" fill="none" opacity="0.75"/>
<path d="M636.94 87.2V111.2M635.54 87.2h2.8M635.54 111.2h2.8" stroke="#ff2a2a" stroke-width="0.7" fill="none" opacity="0.75"/>
<path d="M640.69 86.7V110.7M639.29 86.7h2.8M639.29 110.7h2.8" stroke="#ff2a2a" stroke-width="0.7" fill="none" opacity="0.75"/>
<path d="M644.45 85.7V109.7M643.05 85.7h2.8M643.05 109.7h2.8" stroke="#ff2a2a" stroke-width="0.7" fill="none" opacity="0.75"/>
<path d="M648.2 83.8V107.8M646.8 83.8h2.8M646.8 107.8h2.8" stroke="#ff2a2a" stroke-width="0.7" fill="none" opacity="0.75"/>
<path d="M651.96 82.2V106.2M650.56 82.2h2.8M650.56 106.2h2.8" stroke="#ff2a2a" stroke-width="0.7" fill="none" opacity="0.75"/>
<path d="M655.72 79.9V103.9M654.32 79.9h2.8M654.32 103.9h2.8" stroke="#ff2a2a" stroke-width="0.7" fill="none" opacity="0.75"/>
<path d="M659.47 76V100M658.07 76h2.8M658.07 100h2.8" stroke="#ff2a2a" stroke-width="0.7" fill="none" opacity="0.75"/>
<path d="M663.23 75.1V99.1M661.83 75.1h2.8M661.83 99.1h2.8" stroke="#ff2a2a" stroke-width="0.7" fill="none" opacity="0.75"/>
<path d="M666.98 75.1V99.1M665.58 75.1h2.8M665.58 99.1h2.8" stroke="#ff2a2a" stroke-width="0.7" fill="none" opacity="0.75"/>
<path d="M670.74 77V103M669.34 77h2.8M669.34 103h2.8" stroke="#ff2a2a" stroke-width="0.7" fill="none" opacity="0.75"/>
<path d="M674.5 76.9V104.9M673.1 76.9h2.8M673.1 104.9h2.8" stroke="#ff2a2a" stroke-width="0.7" fill="none" opacity="0.75"/>
<path d="M678.25 72V104M676.85 72h2.8M676.85 104h2.8" stroke="#ff2a2a" stroke-width="0.7" fill="none" opacity="0.75"/>
<path d="M509.23 36.2 L512.99 35.5 L516.74 37.3 L520.5 35.7 L524.26 56.8 L528.01 75.1 L531.77 92.8 L535.52 93.8 L539.28 95.3 L543.04 92.8 L546.79 87.1 L550.55 93.8 L554.3 92.4 L558.06 96.3 L561.82 98.2 L565.57 100.5 L569.33 99.6 L573.08 100.2 L576.84 102.9 L580.6 99.6 L584.35 91.9 L588.11 93.2 L591.86 105.4 L595.62 104.8 L599.38 106.4 L603.13 108.9 L606.89 108.3 L610.64 106.8 L614.4 106.8 L618.16 103.5 L621.91 98.3 L625.67 97.1 L629.42 99 L633.18 99.6 L636.94 99.2 L640.69 98.7 L644.45 97.7 L648.2 95.8 L651.96 94.2 L655.72 91.9 L659.47 88 L663.23 87.1 L666.98 87.1 L670.74 90 L674.5 90.9 L678.25 88" stroke="#ff0000" stroke-width="0.7" fill="none" opacity="0.85"/>
<circle cx="509.23" cy="36.2" r="1.55" fill="#ff0000"/>
<circle cx="512.99" cy="35.5" r="1.55" fill="#ff0000"/>
<circle cx="516.74" cy="37.3" r="1.55" fill="#ff0000"/>
<circle cx="520.5" cy="35.7" r="1.55" fill="#ff0000"/>
<circle cx="524.26" cy="56.8" r="1.55" fill="#ff0000"/>
<circle cx="528.01" cy="75.1" r="1.55" fill="#ff0000"/>
<circle cx="531.77" cy="92.8" r="1.55" fill="#ff0000"/>
<circle cx="535.52" cy="93.8" r="1.55" fill="#ff0000"/>
<circle cx="539.28" cy="95.3" r="1.55" fill="#ff0000"/>
<circle cx="543.04" cy="92.8" r="1.55" fill="#ff0000"/>
<circle cx="546.79" cy="87.1" r="1.55" fill="#ff0000"/>
<circle cx="550.55" cy="93.8" r="1.55" fill="#ff0000"/>
<circle cx="554.3" cy="92.4" r="1.55" fill="#ff0000"/>
<circle cx="558.06" cy="96.3" r="1.55" fill="#ff0000"/>
<circle cx="561.82" cy="98.2" r="1.55" fill="#ff0000"/>
<circle cx="565.57" cy="100.5" r="1.55" fill="#ff0000"/>
<circle cx="569.33" cy="99.6" r="1.55" fill="#ff0000"/>
<circle cx="573.08" cy="100.2" r="1.55" fill="#ff0000"/>
<circle cx="576.84" cy="102.9" r="1.55" fill="#ff0000"/>
<circle cx="580.6" cy="99.6" r="1.55" fill="#ff0000"/>
<circle cx="584.35" cy="91.9" r="1.55" fill="#ff0000"/>
<circle cx="588.11" cy="93.2" r="1.55" fill="#ff0000"/>
<circle cx="591.86" cy="105.4" r="1.55" fill="#ff0000"/>
<circle cx="595.62" cy="104.8" r="1.55" fill="#ff0000"/>
<circle cx="599.38" cy="106.4" r="1.55" fill="#ff0000"/>
<circle cx="603.13" cy="108.9" r="1.55" fill="#ff0000"/>
<circle cx="606.89" cy="108.3" r="1.55" fill="#ff0000"/>
<circle cx="610.64" cy="106.8" r="1.55" fill="#ff0000"/>
<circle cx="614.4" cy="106.8" r="1.55" fill="#ff0000"/>
<circle cx="618.16" cy="103.5" r="1.55" fill="#ff0000"/>
<circle cx="621.91" cy="98.3" r="1.55" fill="#ff0000"/>
<circle cx="625.67" cy="97.1" r="1.55" fill="#ff0000"/>
<circle cx="629.42" cy="99" r="1.55" fill="#ff0000"/>
<circle cx="633.18" cy="99.6" r="1.55" fill="#ff0000"/>
<circle cx="636.94" cy="99.2" r="1.55" fill="#ff0000"/>
<circle cx="640.69" cy="98.7" r="1.55" fill="#ff0000"/>
<circle cx="644.45" cy="97.7" r="1.55" fill="#ff0000"/>
<circle cx="648.2" cy="95.8" r="1.55" fill="#ff0000"/>
<circle cx="651.96" cy="94.2" r="1.55" fill="#ff0000"/>
<circle cx="655.72" cy="91.9" r="1.55" fill="#ff0000"/>
<circle cx="659.47" cy="88" r="1.55" fill="#ff0000"/>
<circle cx="663.23" cy="87.1" r="1.55" fill="#ff0000"/>
<circle cx="666.98" cy="87.1" r="1.55" fill="#ff0000"/>
<circle cx="670.74" cy="90" r="1.55" fill="#ff0000"/>
<circle cx="674.5" cy="90.9" r="1.55" fill="#ff0000"/>
<circle cx="678.25" cy="88" r="1.55" fill="#ff0000"/>
<path d="M524.26 38.4V42M522.86 38.4h2.8M522.86 42h2.8" stroke="#222" stroke-width="0.7" fill="none" opacity="0.8"/>
<path d="M528.01 39.8V43.4M526.61 39.8h2.8M526.61 43.4h2.8" stroke="#222" stroke-width="0.7" fill="none" opacity="0.8"/>
<path d="M531.77 42.1V45.7M530.37 42.1h2.8M530.37 45.7h2.8" stroke="#222" stroke-width="0.7" fill="none" opacity="0.8"/>
<path d="M535.52 44.2V48.2M534.12 44.2h2.8M534.12 48.2h2.8" stroke="#222" stroke-width="0.7" fill="none" opacity="0.8"/>
<path d="M539.28 46.5V50.5M537.88 46.5h2.8M537.88 50.5h2.8" stroke="#222" stroke-width="0.7" fill="none" opacity="0.8"/>
<path d="M543.04 46.3V50.7M541.64 46.3h2.8M541.64 50.7h2.8" stroke="#222" stroke-width="0.7" fill="none" opacity="0.8"/>
<path d="M546.79 48.2V52.8M545.39 48.2h2.8M545.39 52.8h2.8" stroke="#222" stroke-width="0.7" fill="none" opacity="0.8"/>
<path d="M550.55 47.7V52.7M549.15 47.7h2.8M549.15 52.7h2.8" stroke="#222" stroke-width="0.7" fill="none" opacity="0.8"/>
<path d="M554.3 46V51M552.9 46h2.8M552.9 51h2.8" stroke="#222" stroke-width="0.7" fill="none" opacity="0.8"/>
<path d="M558.06 54.5V60.1M556.66 54.5h2.8M556.66 60.1h2.8" stroke="#222" stroke-width="0.7" fill="none" opacity="0.8"/>
<path d="M561.82 53.6V60M560.42 53.6h2.8M560.42 60h2.8" stroke="#222" stroke-width="0.7" fill="none" opacity="0.8"/>
<path d="M565.57 55.5V61.9M564.17 55.5h2.8M564.17 61.9h2.8" stroke="#222" stroke-width="0.7" fill="none" opacity="0.8"/>
<path d="M569.33 52.4V58.4M567.93 52.4h2.8M567.93 58.4h2.8" stroke="#222" stroke-width="0.7" fill="none" opacity="0.8"/>
<path d="M573.08 52.8V58.8M571.68 52.8h2.8M571.68 58.8h2.8" stroke="#222" stroke-width="0.7" fill="none" opacity="0.8"/>
<path d="M576.84 55.4V61.4M575.44 55.4h2.8M575.44 61.4h2.8" stroke="#222" stroke-width="0.7" fill="none" opacity="0.8"/>
<path d="M580.6 59.6V65.6M579.2 59.6h2.8M579.2 65.6h2.8" stroke="#222" stroke-width="0.7" fill="none" opacity="0.8"/>
<path d="M584.35 59.8V65.8M582.95 59.8h2.8M582.95 65.8h2.8" stroke="#222" stroke-width="0.7" fill="none" opacity="0.8"/>
<path d="M588.11 57V63M586.71 57h2.8M586.71 63h2.8" stroke="#222" stroke-width="0.7" fill="none" opacity="0.8"/>
<path d="M591.86 59.2V66.8M590.46 59.2h2.8M590.46 66.8h2.8" stroke="#222" stroke-width="0.7" fill="none" opacity="0.8"/>
<path d="M595.62 57.9V65.5M594.22 57.9h2.8M594.22 65.5h2.8" stroke="#222" stroke-width="0.7" fill="none" opacity="0.8"/>
<path d="M599.38 57.1V64.7M597.98 57.1h2.8M597.98 64.7h2.8" stroke="#222" stroke-width="0.7" fill="none" opacity="0.8"/>
<path d="M603.13 60V67.6M601.73 60h2.8M601.73 67.6h2.8" stroke="#222" stroke-width="0.7" fill="none" opacity="0.8"/>
<path d="M606.89 61.4V69M605.49 61.4h2.8M605.49 69h2.8" stroke="#222" stroke-width="0.7" fill="none" opacity="0.8"/>
<path d="M610.64 58.9V66.5M609.24 58.9h2.8M609.24 66.5h2.8" stroke="#222" stroke-width="0.7" fill="none" opacity="0.8"/>
<path d="M614.4 58.2V65.8M613 58.2h2.8M613 65.8h2.8" stroke="#222" stroke-width="0.7" fill="none" opacity="0.8"/>
<path d="M618.16 60V67.6M616.76 60h2.8M616.76 67.6h2.8" stroke="#222" stroke-width="0.7" fill="none" opacity="0.8"/>
<path d="M621.91 59.6V67.2M620.51 59.6h2.8M620.51 67.2h2.8" stroke="#222" stroke-width="0.7" fill="none" opacity="0.8"/>
<path d="M625.67 62.6V70.2M624.27 62.6h2.8M624.27 70.2h2.8" stroke="#222" stroke-width="0.7" fill="none" opacity="0.8"/>
<path d="M629.42 62.3V69.9M628.02 62.3h2.8M628.02 69.9h2.8" stroke="#222" stroke-width="0.7" fill="none" opacity="0.8"/>
<path d="M633.18 65.8V73.4M631.78 65.8h2.8M631.78 73.4h2.8" stroke="#222" stroke-width="0.7" fill="none" opacity="0.8"/>
<path d="M636.94 67.5V75.1M635.54 67.5h2.8M635.54 75.1h2.8" stroke="#222" stroke-width="0.7" fill="none" opacity="0.8"/>
<path d="M640.69 64.7V72.3M639.29 64.7h2.8M639.29 72.3h2.8" stroke="#222" stroke-width="0.7" fill="none" opacity="0.8"/>
<path d="M644.45 65.4V73M643.05 65.4h2.8M643.05 73h2.8" stroke="#222" stroke-width="0.7" fill="none" opacity="0.8"/>
<path d="M648.2 68.6V75.6M646.8 68.6h2.8M646.8 75.6h2.8" stroke="#222" stroke-width="0.7" fill="none" opacity="0.8"/>
<path d="M651.96 65.5V75.1M650.56 65.5h2.8M650.56 75.1h2.8" stroke="#222" stroke-width="0.7" fill="none" opacity="0.8"/>
<path d="M655.72 64.4V77.6M654.32 64.4h2.8M654.32 77.6h2.8" stroke="#222" stroke-width="0.7" fill="none" opacity="0.8"/>
<path d="M659.47 65.7V78.5M658.07 65.7h2.8M658.07 78.5h2.8" stroke="#222" stroke-width="0.7" fill="none" opacity="0.8"/>
<path d="M663.23 67.2V79M661.83 67.2h2.8M661.83 79h2.8" stroke="#222" stroke-width="0.7" fill="none" opacity="0.8"/>
<path d="M666.98 64.5V73.3M665.58 64.5h2.8M665.58 73.3h2.8" stroke="#222" stroke-width="0.7" fill="none" opacity="0.8"/>
<path d="M670.74 69.5V76.7M669.34 69.5h2.8M669.34 76.7h2.8" stroke="#222" stroke-width="0.7" fill="none" opacity="0.8"/>
<path d="M674.5 70.3V77.3M673.1 70.3h2.8M673.1 77.3h2.8" stroke="#222" stroke-width="0.7" fill="none" opacity="0.8"/>
<path d="M678.25 67.9V75.5M676.85 67.9h2.8M676.85 75.5h2.8" stroke="#222" stroke-width="0.7" fill="none" opacity="0.8"/>
<path d="M509.23 37.5 L512.99 35.5 L516.74 36.6 L520.5 34.6 L524.26 40.2 L528.01 41.6 L531.77 43.9 L535.52 46.2 L539.28 48.5 L543.04 48.5 L546.79 50.5 L550.55 50.2 L554.3 48.5 L558.06 57.3 L561.82 56.8 L565.57 58.7 L569.33 55.4 L573.08 55.8 L576.84 58.4 L580.6 62.6 L584.35 62.8 L588.11 60 L591.86 63 L595.62 61.7 L599.38 60.9 L603.13 63.8 L606.89 65.2 L610.64 62.7 L614.4 62 L618.16 63.8 L621.91 63.4 L625.67 66.4 L629.42 66.1 L633.18 69.6 L636.94 71.3 L640.69 68.5 L644.45 69.2 L648.2 72.1 L651.96 70.3 L655.72 71 L659.47 72.1 L663.23 73.1 L666.98 68.9 L670.74 73.1 L674.5 73.8 L678.25 71.7" stroke="#000" stroke-width="0.7" fill="none" opacity="0.85"/>
<circle cx="509.23" cy="37.5" r="1.55" fill="#000"/>
<circle cx="512.99" cy="35.5" r="1.55" fill="#000"/>
<circle cx="516.74" cy="36.6" r="1.55" fill="#000"/>
<circle cx="520.5" cy="34.6" r="1.55" fill="#000"/>
<circle cx="524.26" cy="40.2" r="1.55" fill="#000"/>
<circle cx="528.01" cy="41.6" r="1.55" fill="#000"/>
<circle cx="531.77" cy="43.9" r="1.55" fill="#000"/>
<circle cx="535.52" cy="46.2" r="1.55" fill="#000"/>
<circle cx="539.28" cy="48.5" r="1.55" fill="#000"/>
<circle cx="543.04" cy="48.5" r="1.55" fill="#000"/>
<circle cx="546.79" cy="50.5" r="1.55" fill="#000"/>
<circle cx="550.55" cy="50.2" r="1.55" fill="#000"/>
<circle cx="554.3" cy="48.5" r="1.55" fill="#000"/>
<circle cx="558.06" cy="57.3" r="1.55" fill="#000"/>
<circle cx="561.82" cy="56.8" r="1.55" fill="#000"/>
<circle cx="565.57" cy="58.7" r="1.55" fill="#000"/>
<circle cx="569.33" cy="55.4" r="1.55" fill="#000"/>
<circle cx="573.08" cy="55.8" r="1.55" fill="#000"/>
<circle cx="576.84" cy="58.4" r="1.55" fill="#000"/>
<circle cx="580.6" cy="62.6" r="1.55" fill="#000"/>
<circle cx="584.35" cy="62.8" r="1.55" fill="#000"/>
<circle cx="588.11" cy="60" r="1.55" fill="#000"/>
<circle cx="591.86" cy="63" r="1.55" fill="#000"/>
<circle cx="595.62" cy="61.7" r="1.55" fill="#000"/>
<circle cx="599.38" cy="60.9" r="1.55" fill="#000"/>
<circle cx="603.13" cy="63.8" r="1.55" fill="#000"/>
<circle cx="606.89" cy="65.2" r="1.55" fill="#000"/>
<circle cx="610.64" cy="62.7" r="1.55" fill="#000"/>
<circle cx="614.4" cy="62" r="1.55" fill="#000"/>
<circle cx="618.16" cy="63.8" r="1.55" fill="#000"/>
<circle cx="621.91" cy="63.4" r="1.55" fill="#000"/>
<circle cx="625.67" cy="66.4" r="1.55" fill="#000"/>
<circle cx="629.42" cy="66.1" r="1.55" fill="#000"/>
<circle cx="633.18" cy="69.6" r="1.55" fill="#000"/>
<circle cx="636.94" cy="71.3" r="1.55" fill="#000"/>
<circle cx="640.69" cy="68.5" r="1.55" fill="#000"/>
<circle cx="644.45" cy="69.2" r="1.55" fill="#000"/>
<circle cx="648.2" cy="72.1" r="1.55" fill="#000"/>
<circle cx="651.96" cy="70.3" r="1.55" fill="#000"/>
<circle cx="655.72" cy="71" r="1.55" fill="#000"/>
<circle cx="659.47" cy="72.1" r="1.55" fill="#000"/>
<circle cx="663.23" cy="73.1" r="1.55" fill="#000"/>
<circle cx="666.98" cy="68.9" r="1.55" fill="#000"/>
<circle cx="670.74" cy="73.1" r="1.55" fill="#000"/>
<circle cx="674.5" cy="73.8" r="1.55" fill="#000"/>
<circle cx="678.25" cy="71.7" r="1.55" fill="#000"/>
<line x1="621.8" y1="127.4" x2="634.6" y2="127.4" stroke="#555" stroke-width="1.0" />
<circle cx="628.2" cy="127.4" r="1.35" fill="#000"/>
<text x="641.3" y="129.6" font-size="6.4" font-weight="normal" text-anchor="start" fill="#444" stroke="#444" stroke-width="0.15">Vehicle</text>
<line x1="621.8" y1="133.3" x2="634.6" y2="133.3" stroke="#ff4040" stroke-width="1.0" />
<circle cx="628.2" cy="133.3" r="1.35" fill="#ff0000"/>
<text x="641.3" y="135.5" font-size="6.4" font-weight="normal" text-anchor="start" fill="#444" stroke="#444" stroke-width="0.15">Capsinoid</text>
<path d="M671 126.1H672.6V133.7H671" stroke="#333" stroke-width="0.8" fill="none"/>
<text x="676.4" y="134.9" font-size="8.6" font-weight="normal" text-anchor="start" fill="#222" >**</text>
<line x1="41.2" y1="223.2" x2="214.4" y2="223.2" stroke="#222" stroke-width="1.1" stroke-dasharray="1.25 2.3"/>
<line x1="55.4" y1="215" x2="55.4" y2="324" stroke="#5050ff" stroke-width="0.9" stroke-dasharray="1.3 1.6"/>
<line x1="88.4" y1="216" x2="88.4" y2="324" stroke="#5050ff" stroke-width="0.9" stroke-dasharray="1.3 1.6"/>
<line x1="122.5" y1="205.2" x2="122.5" y2="324" stroke="#5050ff" stroke-width="0.9" stroke-dasharray="1.3 1.6"/>
<line x1="156.4" y1="205.2" x2="156.4" y2="324" stroke="#5050ff" stroke-width="0.9" stroke-dasharray="1.3 1.6"/>
<text x="47.9" y="213.4" font-size="6.7" font-weight="normal" text-anchor="start" fill="#2222ff" stroke="#2222ff" stroke-width="0.22" textLength="47.6" lengthAdjust="spacingAndGlyphs">IP administration</text>
<line x1="40.2" y1="205.65" x2="40.2" y2="324.7" stroke="#000" stroke-width="1.5" />
<line x1="35" y1="324.3" x2="40.2" y2="324.3" stroke="#000" stroke-width="1.3" />
<text transform="translate(32.7,327.6) scale(0.9,1)" font-size="9.3" font-weight="bold" text-anchor="end">-6</text>
<line x1="35" y1="307.45" x2="40.2" y2="307.45" stroke="#000" stroke-width="1.3" />
<text transform="translate(32.7,310.75) scale(0.9,1)" font-size="9.3" font-weight="bold" text-anchor="end">-5</text>
<line x1="35" y1="290.6" x2="40.2" y2="290.6" stroke="#000" stroke-width="1.3" />
<text transform="translate(32.7,293.9) scale(0.9,1)" font-size="9.3" font-weight="bold" text-anchor="end">-4</text>
<line x1="35" y1="273.75" x2="40.2" y2="273.75" stroke="#000" stroke-width="1.3" />
<text transform="translate(32.7,277.05) scale(0.9,1)" font-size="9.3" font-weight="bold" text-anchor="end">-3</text>
<line x1="35" y1="256.9" x2="40.2" y2="256.9" stroke="#000" stroke-width="1.3" />
<text transform="translate(32.7,260.2) scale(0.9,1)" font-size="9.3" font-weight="bold" text-anchor="end">-2</text>
<line x1="35" y1="240.05" x2="40.2" y2="240.05" stroke="#000" stroke-width="1.3" />
<text transform="translate(32.7,243.35) scale(0.9,1)" font-size="9.3" font-weight="bold" text-anchor="end">-1</text>
<line x1="35" y1="223.2" x2="40.2" y2="223.2" stroke="#000" stroke-width="1.3" />
<text transform="translate(32.7,226.5) scale(0.9,1)" font-size="9.3" font-weight="bold" text-anchor="end">0</text>
<line x1="35" y1="206.35" x2="40.2" y2="206.35" stroke="#000" stroke-width="1.3" />
<text transform="translate(32.7,209.65) scale(0.9,1)" font-size="9.3" font-weight="bold" text-anchor="end">1</text>
<line x1="37.4" y1="315.88" x2="40.2" y2="315.88" stroke="#000" stroke-width="1.1" />
<line x1="37.4" y1="299.02" x2="40.2" y2="299.02" stroke="#000" stroke-width="1.1" />
<line x1="37.4" y1="282.18" x2="40.2" y2="282.18" stroke="#000" stroke-width="1.1" />
<line x1="37.4" y1="265.32" x2="40.2" y2="265.32" stroke="#000" stroke-width="1.1" />
<line x1="37.4" y1="248.47" x2="40.2" y2="248.47" stroke="#000" stroke-width="1.1" />
<line x1="37.4" y1="231.62" x2="40.2" y2="231.62" stroke="#000" stroke-width="1.1" />
<line x1="37.4" y1="214.77" x2="40.2" y2="214.77" stroke="#000" stroke-width="1.1" />
<line x1="39.5" y1="324" x2="216.91" y2="324" stroke="#000" stroke-width="1.6" />
<line x1="40.05" y1="324" x2="40.05" y2="329.2" stroke="#000" stroke-width="1.3" />
<line x1="43.97" y1="324" x2="43.97" y2="326.8" stroke="#000" stroke-width="1.1" />
<line x1="47.88" y1="324" x2="47.88" y2="326.8" stroke="#000" stroke-width="1.1" />
<line x1="51.8" y1="324" x2="51.8" y2="329.2" stroke="#000" stroke-width="1.3" />
<line x1="55.72" y1="324" x2="55.72" y2="326.8" stroke="#000" stroke-width="1.1" />
<line x1="59.63" y1="324" x2="59.63" y2="326.8" stroke="#000" stroke-width="1.1" />
<line x1="63.55" y1="324" x2="63.55" y2="329.2" stroke="#000" stroke-width="1.3" />
<line x1="67.47" y1="324" x2="67.47" y2="326.8" stroke="#000" stroke-width="1.1" />
<line x1="71.38" y1="324" x2="71.38" y2="326.8" stroke="#000" stroke-width="1.1" />
<line x1="75.3" y1="324" x2="75.3" y2="329.2" stroke="#000" stroke-width="1.3" />
<line x1="79.22" y1="324" x2="79.22" y2="326.8" stroke="#000" stroke-width="1.1" />
<line x1="83.14" y1="324" x2="83.14" y2="326.8" stroke="#000" stroke-width="1.1" />
<line x1="87.05" y1="324" x2="87.05" y2="329.2" stroke="#000" stroke-width="1.3" />
<line x1="90.97" y1="324" x2="90.97" y2="326.8" stroke="#000" stroke-width="1.1" />
<line x1="94.89" y1="324" x2="94.89" y2="326.8" stroke="#000" stroke-width="1.1" />
<line x1="98.8" y1="324" x2="98.8" y2="329.2" stroke="#000" stroke-width="1.3" />
<line x1="102.72" y1="324" x2="102.72" y2="326.8" stroke="#000" stroke-width="1.1" />
<line x1="106.64" y1="324" x2="106.64" y2="326.8" stroke="#000" stroke-width="1.1" />
<line x1="110.55" y1="324" x2="110.55" y2="329.2" stroke="#000" stroke-width="1.3" />
<line x1="114.47" y1="324" x2="114.47" y2="326.8" stroke="#000" stroke-width="1.1" />
<line x1="118.39" y1="324" x2="118.39" y2="326.8" stroke="#000" stroke-width="1.1" />
<line x1="122.31" y1="324" x2="122.31" y2="329.2" stroke="#000" stroke-width="1.3" />
<line x1="126.22" y1="324" x2="126.22" y2="326.8" stroke="#000" stroke-width="1.1" />
<line x1="130.14" y1="324" x2="130.14" y2="326.8" stroke="#000" stroke-width="1.1" />
<line x1="134.06" y1="324" x2="134.06" y2="329.2" stroke="#000" stroke-width="1.3" />
<line x1="137.97" y1="324" x2="137.97" y2="326.8" stroke="#000" stroke-width="1.1" />
<line x1="141.89" y1="324" x2="141.89" y2="326.8" stroke="#000" stroke-width="1.1" />
<line x1="145.81" y1="324" x2="145.81" y2="329.2" stroke="#000" stroke-width="1.3" />
<line x1="149.72" y1="324" x2="149.72" y2="326.8" stroke="#000" stroke-width="1.1" />
<line x1="153.64" y1="324" x2="153.64" y2="326.8" stroke="#000" stroke-width="1.1" />
<line x1="157.56" y1="324" x2="157.56" y2="329.2" stroke="#000" stroke-width="1.3" />
<line x1="161.48" y1="324" x2="161.48" y2="326.8" stroke="#000" stroke-width="1.1" />
<line x1="165.39" y1="324" x2="165.39" y2="326.8" stroke="#000" stroke-width="1.1" />
<line x1="169.31" y1="324" x2="169.31" y2="329.2" stroke="#000" stroke-width="1.3" />
<line x1="173.23" y1="324" x2="173.23" y2="326.8" stroke="#000" stroke-width="1.1" />
<line x1="177.14" y1="324" x2="177.14" y2="326.8" stroke="#000" stroke-width="1.1" />
<line x1="181.06" y1="324" x2="181.06" y2="329.2" stroke="#000" stroke-width="1.3" />
<line x1="184.98" y1="324" x2="184.98" y2="326.8" stroke="#000" stroke-width="1.1" />
<line x1="188.89" y1="324" x2="188.89" y2="326.8" stroke="#000" stroke-width="1.1" />
<line x1="192.81" y1="324" x2="192.81" y2="329.2" stroke="#000" stroke-width="1.3" />
<line x1="196.73" y1="324" x2="196.73" y2="326.8" stroke="#000" stroke-width="1.1" />
<line x1="200.65" y1="324" x2="200.65" y2="326.8" stroke="#000" stroke-width="1.1" />
<line x1="204.56" y1="324" x2="204.56" y2="329.2" stroke="#000" stroke-width="1.3" />
<line x1="208.48" y1="324" x2="208.48" y2="326.8" stroke="#000" stroke-width="1.1" />
<line x1="212.4" y1="324" x2="212.4" y2="326.8" stroke="#000" stroke-width="1.1" />
<line x1="216.31" y1="324" x2="216.31" y2="329.2" stroke="#000" stroke-width="1.3" />
<text transform="translate(42.25,337.4) rotate(-45)" font-size="8.8" font-weight="bold" text-anchor="end">-30</text>
<text transform="translate(54,337.4) rotate(-45)" font-size="8.8" font-weight="bold" text-anchor="end">0</text>
<text transform="translate(65.75,337.4) rotate(-45)" font-size="8.8" font-weight="bold" text-anchor="end">30</text>
<text transform="translate(77.5,337.4) rotate(-45)" font-size="8.8" font-weight="bold" text-anchor="end">60</text>
<text transform="translate(89.25,337.4) rotate(-45)" font-size="8.8" font-weight="bold" text-anchor="end">90</text>
<text transform="translate(101,337.4) rotate(-45)" font-size="8.8" font-weight="bold" text-anchor="end">120</text>
<text transform="translate(112.75,337.4) rotate(-45)" font-size="8.8" font-weight="bold" text-anchor="end">150</text>
<text transform="translate(124.51,337.4) rotate(-45)" font-size="8.8" font-weight="bold" text-anchor="end">180</text>
<text transform="translate(136.26,337.4) rotate(-45)" font-size="8.8" font-weight="bold" text-anchor="end">210</text>
<text transform="translate(148.01,337.4) rotate(-45)" font-size="8.8" font-weight="bold" text-anchor="end">240</text>
<text transform="translate(159.76,337.4) rotate(-45)" font-size="8.8" font-weight="bold" text-anchor="end">270</text>
<text transform="translate(171.51,337.4) rotate(-45)" font-size="8.8" font-weight="bold" text-anchor="end">300</text>
<text transform="translate(183.26,337.4) rotate(-45)" font-size="8.8" font-weight="bold" text-anchor="end">330</text>
<text transform="translate(195.01,337.4) rotate(-45)" font-size="8.8" font-weight="bold" text-anchor="end">360</text>
<text transform="translate(206.76,337.4) rotate(-45)" font-size="8.8" font-weight="bold" text-anchor="end">390</text>
<text transform="translate(218.51,337.4) rotate(-45)" font-size="8.8" font-weight="bold" text-anchor="end">420</text>
<text x="128.3" y="359.6" font-size="9.7" font-weight="bold" text-anchor="middle" fill="#000" >Time (min)</text>
<text transform="translate(18.6,263.2) rotate(-90)" font-size="9.8" font-weight="bold" text-anchor="middle">ΔT<tspan font-size="6.8" dy="1.6">b</tspan><tspan dy="-1.6"> (°C)</tspan></text>
<text x="76.1" y="202.5" font-size="11.37" font-weight="bold" text-anchor="start" fill="#000" >40mg/kg Capsinoid</text>
<path d="M55.72 257.9V273.3M54.32 257.9h2.8M54.32 273.3h2.8" stroke="#ff2a2a" stroke-width="0.7" fill="none" opacity="0.75"/>
<path d="M59.63 277.8V297.8M58.23 277.8h2.8M58.23 297.8h2.8" stroke="#ff2a2a" stroke-width="0.7" fill="none" opacity="0.75"/>
<path d="M63.55 281.4V302.6M62.15 281.4h2.8M62.15 302.6h2.8" stroke="#ff2a2a" stroke-width="0.7" fill="none" opacity="0.75"/>
<path d="M67.47 286.8V308M66.07 286.8h2.8M66.07 308h2.8" stroke="#ff2a2a" stroke-width="0.7" fill="none" opacity="0.75"/>
<path d="M71.38 279.9V313.9M69.98 279.9h2.8M69.98 313.9h2.8" stroke="#ff2a2a" stroke-width="0.7" fill="none" opacity="0.75"/>
<path d="M75.3 279.4V315.4M73.9 279.4h2.8M73.9 315.4h2.8" stroke="#ff2a2a" stroke-width="0.7" fill="none" opacity="0.75"/>
<path d="M79.22 274.6V312.6M77.82 274.6h2.8M77.82 312.6h2.8" stroke="#ff2a2a" stroke-width="0.7" fill="none" opacity="0.75"/>
<path d="M83.14 276V308M81.74 276h2.8M81.74 308h2.8" stroke="#ff2a2a" stroke-width="0.7" fill="none" opacity="0.75"/>
<path d="M87.05 270.2V306.2M85.65 270.2h2.8M85.65 306.2h2.8" stroke="#ff2a2a" stroke-width="0.7" fill="none" opacity="0.75"/>
<path d="M90.97 273.2V301.2M89.57 273.2h2.8M89.57 301.2h2.8" stroke="#ff2a2a" stroke-width="0.7" fill="none" opacity="0.75"/>
<path d="M94.89 275.7V305.7M93.49 275.7h2.8M93.49 305.7h2.8" stroke="#ff2a2a" stroke-width="0.7" fill="none" opacity="0.75"/>
<path d="M98.8 274.7V304.7M97.4 274.7h2.8M97.4 304.7h2.8" stroke="#ff2a2a" stroke-width="0.7" fill="none" opacity="0.75"/>
<path d="M102.72 275.7V305.7M101.32 275.7h2.8M101.32 305.7h2.8" stroke="#ff2a2a" stroke-width="0.7" fill="none" opacity="0.75"/>
<path d="M106.64 277.5V303.5M105.24 277.5h2.8M105.24 303.5h2.8" stroke="#ff2a2a" stroke-width="0.7" fill="none" opacity="0.75"/>
<path d="M110.55 270.9V295.9M109.15 270.9h2.8M109.15 295.9h2.8" stroke="#ff2a2a" stroke-width="0.7" fill="none" opacity="0.75"/>
<path d="M114.47 271.4V291.4M113.07 271.4h2.8M113.07 291.4h2.8" stroke="#ff2a2a" stroke-width="0.7" fill="none" opacity="0.75"/>
<path d="M118.39 275.7V296.9M116.99 275.7h2.8M116.99 296.9h2.8" stroke="#ff2a2a" stroke-width="0.7" fill="none" opacity="0.75"/>
<path d="M122.31 274.7V295.9M120.91 274.7h2.8M120.91 295.9h2.8" stroke="#ff2a2a" stroke-width="0.7" fill="none" opacity="0.75"/>
<path d="M126.22 273.5V294.7M124.82 273.5h2.8M124.82 294.7h2.8" stroke="#ff2a2a" stroke-width="0.7" fill="none" opacity="0.75"/>
<path d="M130.14 274.5V296.5M128.74 274.5h2.8M128.74 296.5h2.8" stroke="#ff2a2a" stroke-width="0.7" fill="none" opacity="0.75"/>
<path d="M134.06 273.3V286.1M132.66 273.3h2.8M132.66 286.1h2.8" stroke="#ff2a2a" stroke-width="0.7" fill="none" opacity="0.75"/>
<path d="M137.97 269.5V282.3M136.57 269.5h2.8M136.57 282.3h2.8" stroke="#ff2a2a" stroke-width="0.7" fill="none" opacity="0.75"/>
<path d="M141.89 270.4V281.4M140.49 270.4h2.8M140.49 281.4h2.8" stroke="#ff2a2a" stroke-width="0.7" fill="none" opacity="0.75"/>
<path d="M145.81 270.7V281.3M144.41 270.7h2.8M144.41 281.3h2.8" stroke="#ff2a2a" stroke-width="0.7" fill="none" opacity="0.75"/>
<path d="M149.72 269.7V287.1M148.32 269.7h2.8M148.32 287.1h2.8" stroke="#ff2a2a" stroke-width="0.7" fill="none" opacity="0.75"/>
<path d="M153.64 262V279.4M152.24 262h2.8M152.24 279.4h2.8" stroke="#ff2a2a" stroke-width="0.7" fill="none" opacity="0.75"/>
<path d="M157.56 263.5V275.1M156.16 263.5h2.8M156.16 275.1h2.8" stroke="#ff2a2a" stroke-width="0.7" fill="none" opacity="0.75"/>
<path d="M161.48 274.5V287.3M160.08 274.5h2.8M160.08 287.3h2.8" stroke="#ff2a2a" stroke-width="0.7" fill="none" opacity="0.75"/>
<path d="M165.39 268.7V278.3M163.99 268.7h2.8M163.99 278.3h2.8" stroke="#ff2a2a" stroke-width="0.7" fill="none" opacity="0.75"/>
<path d="M169.31 265.5V275.1M167.91 265.5h2.8M167.91 275.1h2.8" stroke="#ff2a2a" stroke-width="0.7" fill="none" opacity="0.75"/>
<path d="M173.23 261V272.6M171.83 261h2.8M171.83 272.6h2.8" stroke="#ff2a2a" stroke-width="0.7" fill="none" opacity="0.75"/>
<path d="M177.14 258.1V269.7M175.74 258.1h2.8M175.74 269.7h2.8" stroke="#ff2a2a" stroke-width="0.7" fill="none" opacity="0.75"/>
<path d="M181.06 256.2V267.8M179.66 256.2h2.8M179.66 267.8h2.8" stroke="#ff2a2a" stroke-width="0.7" fill="none" opacity="0.75"/>
<path d="M184.98 255.3V264.9M183.58 255.3h2.8M183.58 264.9h2.8" stroke="#ff2a2a" stroke-width="0.7" fill="none" opacity="0.75"/>
<path d="M188.89 254.3V263.9M187.49 254.3h2.8M187.49 263.9h2.8" stroke="#ff2a2a" stroke-width="0.7" fill="none" opacity="0.75"/>
<path d="M192.81 253.3V261.1M191.41 253.3h2.8M191.41 261.1h2.8" stroke="#ff2a2a" stroke-width="0.7" fill="none" opacity="0.75"/>
<path d="M196.73 253.3V259.1M195.33 253.3h2.8M195.33 259.1h2.8" stroke="#ff2a2a" stroke-width="0.7" fill="none" opacity="0.75"/>
<path d="M200.65 253.3V259.1M199.25 253.3h2.8M199.25 259.1h2.8" stroke="#ff2a2a" stroke-width="0.7" fill="none" opacity="0.75"/>
<path d="M204.56 254.7V260.7M203.16 254.7h2.8M203.16 260.7h2.8" stroke="#ff2a2a" stroke-width="0.7" fill="none" opacity="0.75"/>
<path d="M208.48 251.7V257.7M207.08 251.7h2.8M207.08 257.7h2.8" stroke="#ff2a2a" stroke-width="0.7" fill="none" opacity="0.75"/>
<path d="M212.4 250.3V256.3M211 250.3h2.8M211 256.3h2.8" stroke="#ff2a2a" stroke-width="0.7" fill="none" opacity="0.75"/>
<path d="M216.31 247.5V255.3M214.91 247.5h2.8M214.91 255.3h2.8" stroke="#ff2a2a" stroke-width="0.7" fill="none" opacity="0.75"/>
<path d="M40.05 223.6 L43.97 221.3 L47.88 224.5 L51.8 224.5 L55.72 265.6 L59.63 287.8 L63.55 292 L67.47 297.4 L71.38 296.9 L75.3 297.4 L79.22 293.6 L83.14 292 L87.05 288.2 L90.97 287.2 L94.89 290.7 L98.8 289.7 L102.72 290.7 L106.64 290.5 L110.55 283.4 L114.47 281.4 L118.39 286.3 L122.31 285.3 L126.22 284.1 L130.14 285.5 L134.06 279.7 L137.97 275.9 L141.89 275.9 L145.81 276 L149.72 278.4 L153.64 270.7 L157.56 269.3 L161.48 280.9 L165.39 273.5 L169.31 270.3 L173.23 266.8 L177.14 263.9 L181.06 262 L184.98 260.1 L188.89 259.1 L192.81 257.2 L196.73 256.2 L200.65 256.2 L204.56 257.7 L208.48 254.7 L212.4 253.3 L216.31 251.4" stroke="#ff0000" stroke-width="0.7" fill="none" opacity="0.85"/>
<circle cx="40.05" cy="223.6" r="1.55" fill="#ff0000"/>
<circle cx="43.97" cy="221.3" r="1.55" fill="#ff0000"/>
<circle cx="47.88" cy="224.5" r="1.55" fill="#ff0000"/>
<circle cx="51.8" cy="224.5" r="1.55" fill="#ff0000"/>
<circle cx="55.72" cy="265.6" r="1.55" fill="#ff0000"/>
<circle cx="59.63" cy="287.8" r="1.55" fill="#ff0000"/>
<circle cx="63.55" cy="292" r="1.55" fill="#ff0000"/>
<circle cx="67.47" cy="297.4" r="1.55" fill="#ff0000"/>
<circle cx="71.38" cy="296.9" r="1.55" fill="#ff0000"/>
<circle cx="75.3" cy="297.4" r="1.55" fill="#ff0000"/>
<circle cx="79.22" cy="293.6" r="1.55" fill="#ff0000"/>
<circle cx="83.14" cy="292" r="1.55" fill="#ff0000"/>
<circle cx="87.05" cy="288.2" r="1.55" fill="#ff0000"/>
<circle cx="90.97" cy="287.2" r="1.55" fill="#ff0000"/>
<circle cx="94.89" cy="290.7" r="1.55" fill="#ff0000"/>
<circle cx="98.8" cy="289.7" r="1.55" fill="#ff0000"/>
<circle cx="102.72" cy="290.7" r="1.55" fill="#ff0000"/>
<circle cx="106.64" cy="290.5" r="1.55" fill="#ff0000"/>
<circle cx="110.55" cy="283.4" r="1.55" fill="#ff0000"/>
<circle cx="114.47" cy="281.4" r="1.55" fill="#ff0000"/>
<circle cx="118.39" cy="286.3" r="1.55" fill="#ff0000"/>
<circle cx="122.31" cy="285.3" r="1.55" fill="#ff0000"/>
<circle cx="126.22" cy="284.1" r="1.55" fill="#ff0000"/>
<circle cx="130.14" cy="285.5" r="1.55" fill="#ff0000"/>
<circle cx="134.06" cy="279.7" r="1.55" fill="#ff0000"/>
<circle cx="137.97" cy="275.9" r="1.55" fill="#ff0000"/>
<circle cx="141.89" cy="275.9" r="1.55" fill="#ff0000"/>
<circle cx="145.81" cy="276" r="1.55" fill="#ff0000"/>
<circle cx="149.72" cy="278.4" r="1.55" fill="#ff0000"/>
<circle cx="153.64" cy="270.7" r="1.55" fill="#ff0000"/>
<circle cx="157.56" cy="269.3" r="1.55" fill="#ff0000"/>
<circle cx="161.48" cy="280.9" r="1.55" fill="#ff0000"/>
<circle cx="165.39" cy="273.5" r="1.55" fill="#ff0000"/>
<circle cx="169.31" cy="270.3" r="1.55" fill="#ff0000"/>
<circle cx="173.23" cy="266.8" r="1.55" fill="#ff0000"/>
<circle cx="177.14" cy="263.9" r="1.55" fill="#ff0000"/>
<circle cx="181.06" cy="262" r="1.55" fill="#ff0000"/>
<circle cx="184.98" cy="260.1" r="1.55" fill="#ff0000"/>
<circle cx="188.89" cy="259.1" r="1.55" fill="#ff0000"/>
<circle cx="192.81" cy="257.2" r="1.55" fill="#ff0000"/>
<circle cx="196.73" cy="256.2" r="1.55" fill="#ff0000"/>
<circle cx="200.65" cy="256.2" r="1.55" fill="#ff0000"/>
<circle cx="204.56" cy="257.7" r="1.55" fill="#ff0000"/>
<circle cx="208.48" cy="254.7" r="1.55" fill="#ff0000"/>
<circle cx="212.4" cy="253.3" r="1.55" fill="#ff0000"/>
<circle cx="216.31" cy="251.4" r="1.55" fill="#ff0000"/>
<path d="M55.72 236.2V252.2M54.32 236.2h2.8M54.32 252.2h2.8" stroke="#3333ff" stroke-width="0.7" fill="none" opacity="0.7"/>
<path d="M59.63 257.4V267M58.23 257.4h2.8M58.23 267h2.8" stroke="#3333ff" stroke-width="0.7" fill="none" opacity="0.7"/>
<path d="M63.55 276.2V284.8M62.15 276.2h2.8M62.15 284.8h2.8" stroke="#3333ff" stroke-width="0.7" fill="none" opacity="0.7"/>
<path d="M67.47 277V285M66.07 277h2.8M66.07 285h2.8" stroke="#3333ff" stroke-width="0.7" fill="none" opacity="0.7"/>
<path d="M71.38 278.4V286.4M69.98 278.4h2.8M69.98 286.4h2.8" stroke="#3333ff" stroke-width="0.7" fill="none" opacity="0.7"/>
<path d="M75.3 276.1V284.1M73.9 276.1h2.8M73.9 284.1h2.8" stroke="#3333ff" stroke-width="0.7" fill="none" opacity="0.7"/>
<path d="M79.22 270.2V279.2M77.82 270.2h2.8M77.82 279.2h2.8" stroke="#3333ff" stroke-width="0.7" fill="none" opacity="0.7"/>
<path d="M83.14 273.3V288.7M81.74 273.3h2.8M81.74 288.7h2.8" stroke="#3333ff" stroke-width="0.7" fill="none" opacity="0.7"/>
<path d="M87.05 272.4V287.8M85.65 272.4h2.8M85.65 287.8h2.8" stroke="#3333ff" stroke-width="0.7" fill="none" opacity="0.7"/>
<path d="M90.97 276.7V290.1M89.57 276.7h2.8M89.57 290.1h2.8" stroke="#3333ff" stroke-width="0.7" fill="none" opacity="0.7"/>
<path d="M94.89 279.5V292.3M93.49 279.5h2.8M93.49 292.3h2.8" stroke="#3333ff" stroke-width="0.7" fill="none" opacity="0.7"/>
<path d="M98.8 281.2V294M97.4 281.2h2.8M97.4 294h2.8" stroke="#3333ff" stroke-width="0.7" fill="none" opacity="0.7"/>
<path d="M102.72 280.4V294.8M101.32 280.4h2.8M101.32 294.8h2.8" stroke="#3333ff" stroke-width="0.7" fill="none" opacity="0.7"/>
<path d="M106.64 280.4V294.8M105.24 280.4h2.8M105.24 294.8h2.8" stroke="#3333ff" stroke-width="0.7" fill="none" opacity="0.7"/>
<path d="M110.55 283.5V297.9M109.15 283.5h2.8M109.15 297.9h2.8" stroke="#3333ff" stroke-width="0.7" fill="none" opacity="0.7"/>
<path d="M114.47 279.5V294.9M113.07 279.5h2.8M113.07 294.9h2.8" stroke="#3333ff" stroke-width="0.7" fill="none" opacity="0.7"/>
<path d="M118.39 273.1V285.9M116.99 273.1h2.8M116.99 285.9h2.8" stroke="#3333ff" stroke-width="0.7" fill="none" opacity="0.7"/>
<path d="M122.31 274.3V287.7M120.91 274.3h2.8M120.91 287.7h2.8" stroke="#3333ff" stroke-width="0.7" fill="none" opacity="0.7"/>
<path d="M126.22 286.1V299.5M124.82 286.1h2.8M124.82 299.5h2.8" stroke="#3333ff" stroke-width="0.7" fill="none" opacity="0.7"/>
<path d="M130.14 285.2V298.6M128.74 285.2h2.8M128.74 298.6h2.8" stroke="#3333ff" stroke-width="0.7" fill="none" opacity="0.7"/>
<path d="M134.06 286.8V300.8M132.66 286.8h2.8M132.66 300.8h2.8" stroke="#3333ff" stroke-width="0.7" fill="none" opacity="0.7"/>
<path d="M137.97 289V304.4M136.57 289h2.8M136.57 304.4h2.8" stroke="#3333ff" stroke-width="0.7" fill="none" opacity="0.7"/>
<path d="M141.89 287V304.4M140.49 287h2.8M140.49 304.4h2.8" stroke="#3333ff" stroke-width="0.7" fill="none" opacity="0.7"/>
<path d="M145.81 284.8V304M144.41 284.8h2.8M144.41 304h2.8" stroke="#3333ff" stroke-width="0.7" fill="none" opacity="0.7"/>
<path d="M149.72 282.8V304.8M148.32 282.8h2.8M148.32 304.8h2.8" stroke="#3333ff" stroke-width="0.7" fill="none" opacity="0.7"/>
<path d="M153.64 280.5V302.5M152.24 280.5h2.8M152.24 302.5h2.8" stroke="#3333ff" stroke-width="0.7" fill="none" opacity="0.7"/>
<path d="M157.56 276.5V295.7M156.16 276.5h2.8M156.16 295.7h2.8" stroke="#3333ff" stroke-width="0.7" fill="none" opacity="0.7"/>
<path d="M161.48 274.7V294.7M160.08 274.7h2.8M160.08 294.7h2.8" stroke="#3333ff" stroke-width="0.7" fill="none" opacity="0.7"/>
<path d="M165.39 274.6V298.6M163.99 274.6h2.8M163.99 298.6h2.8" stroke="#3333ff" stroke-width="0.7" fill="none" opacity="0.7"/>
<path d="M169.31 274.5V299.5M167.91 274.5h2.8M167.91 299.5h2.8" stroke="#3333ff" stroke-width="0.7" fill="none" opacity="0.7"/>
<path d="M173.23 273.6V299.6M171.83 273.6h2.8M171.83 299.6h2.8" stroke="#3333ff" stroke-width="0.7" fill="none" opacity="0.7"/>
<path d="M177.14 272.6V299.6M175.74 272.6h2.8M175.74 299.6h2.8" stroke="#3333ff" stroke-width="0.7" fill="none" opacity="0.7"/>
<path d="M181.06 270.6V299.6M179.66 270.6h2.8M179.66 299.6h2.8" stroke="#3333ff" stroke-width="0.7" fill="none" opacity="0.7"/>
<path d="M184.98 268.7V297.7M183.58 268.7h2.8M183.58 297.7h2.8" stroke="#3333ff" stroke-width="0.7" fill="none" opacity="0.7"/>
<path d="M188.89 265.9V297.7M187.49 265.9h2.8M187.49 297.7h2.8" stroke="#3333ff" stroke-width="0.7" fill="none" opacity="0.7"/>
<path d="M192.81 263.9V294.7M191.41 263.9h2.8M191.41 294.7h2.8" stroke="#3333ff" stroke-width="0.7" fill="none" opacity="0.7"/>
<path d="M196.73 259.1V291.9M195.33 259.1h2.8M195.33 291.9h2.8" stroke="#3333ff" stroke-width="0.7" fill="none" opacity="0.7"/>
<path d="M200.65 258.6V290.4M199.25 258.6h2.8M199.25 290.4h2.8" stroke="#3333ff" stroke-width="0.7" fill="none" opacity="0.7"/>
<path d="M204.56 259.5V289.5M203.16 259.5h2.8M203.16 289.5h2.8" stroke="#3333ff" stroke-width="0.7" fill="none" opacity="0.7"/>
<path d="M208.48 262.8V292.8M207.08 262.8h2.8M207.08 292.8h2.8" stroke="#3333ff" stroke-width="0.7" fill="none" opacity="0.7"/>
<path d="M212.4 263V293.8M211 263h2.8M211 293.8h2.8" stroke="#3333ff" stroke-width="0.7" fill="none" opacity="0.7"/>
<path d="M216.31 261.4V290.4M214.91 261.4h2.8M214.91 290.4h2.8" stroke="#3333ff" stroke-width="0.7" fill="none" opacity="0.7"/>
<path d="M40.05 224 L43.97 222.3 L47.88 224.5 L51.8 223.6 L55.72 244.2 L59.63 262.2 L63.55 280.5 L67.47 281 L71.38 282.4 L75.3 280.1 L79.22 274.7 L83.14 281 L87.05 280.1 L90.97 283.4 L94.89 285.9 L98.8 287.6 L102.72 287.6 L106.64 287.6 L110.55 290.7 L114.47 287.2 L118.39 279.5 L122.31 281 L126.22 292.8 L130.14 291.9 L134.06 293.8 L137.97 296.7 L141.89 295.7 L145.81 294.4 L149.72 293.8 L153.64 291.5 L157.56 286.1 L161.48 284.7 L165.39 286.6 L169.31 287 L173.23 286.6 L177.14 286.1 L181.06 285.1 L184.98 283.2 L188.89 281.8 L192.81 279.3 L196.73 275.5 L200.65 274.5 L204.56 274.5 L208.48 277.8 L212.4 278.4 L216.31 275.9" stroke="#0000ff" stroke-width="0.7" fill="none" opacity="0.85"/>
<circle cx="40.05" cy="224" r="1.55" fill="#0000ff"/>
<circle cx="43.97" cy="222.3" r="1.55" fill="#0000ff"/>
<circle cx="47.88" cy="224.5" r="1.55" fill="#0000ff"/>
<circle cx="51.8" cy="223.6" r="1.55" fill="#0000ff"/>
<circle cx="55.72" cy="244.2" r="1.55" fill="#0000ff"/>
<circle cx="59.63" cy="262.2" r="1.55" fill="#0000ff"/>
<circle cx="63.55" cy="280.5" r="1.55" fill="#0000ff"/>
<circle cx="67.47" cy="281" r="1.55" fill="#0000ff"/>
<circle cx="71.38" cy="282.4" r="1.55" fill="#0000ff"/>
<circle cx="75.3" cy="280.1" r="1.55" fill="#0000ff"/>
<circle cx="79.22" cy="274.7" r="1.55" fill="#0000ff"/>
<circle cx="83.14" cy="281" r="1.55" fill="#0000ff"/>
<circle cx="87.05" cy="280.1" r="1.55" fill="#0000ff"/>
<circle cx="90.97" cy="283.4" r="1.55" fill="#0000ff"/>
<circle cx="94.89" cy="285.9" r="1.55" fill="#0000ff"/>
<circle cx="98.8" cy="287.6" r="1.55" fill="#0000ff"/>
<circle cx="102.72" cy="287.6" r="1.55" fill="#0000ff"/>
<circle cx="106.64" cy="287.6" r="1.55" fill="#0000ff"/>
<circle cx="110.55" cy="290.7" r="1.55" fill="#0000ff"/>
<circle cx="114.47" cy="287.2" r="1.55" fill="#0000ff"/>
<circle cx="118.39" cy="279.5" r="1.55" fill="#0000ff"/>
<circle cx="122.31" cy="281" r="1.55" fill="#0000ff"/>
<circle cx="126.22" cy="292.8" r="1.55" fill="#0000ff"/>
<circle cx="130.14" cy="291.9" r="1.55" fill="#0000ff"/>
<circle cx="134.06" cy="293.8" r="1.55" fill="#0000ff"/>
<circle cx="137.97" cy="296.7" r="1.55" fill="#0000ff"/>
<circle cx="141.89" cy="295.7" r="1.55" fill="#0000ff"/>
<circle cx="145.81" cy="294.4" r="1.55" fill="#0000ff"/>
<circle cx="149.72" cy="293.8" r="1.55" fill="#0000ff"/>
<circle cx="153.64" cy="291.5" r="1.55" fill="#0000ff"/>
<circle cx="157.56" cy="286.1" r="1.55" fill="#0000ff"/>
<circle cx="161.48" cy="284.7" r="1.55" fill="#0000ff"/>
<circle cx="165.39" cy="286.6" r="1.55" fill="#0000ff"/>
<circle cx="169.31" cy="287" r="1.55" fill="#0000ff"/>
<circle cx="173.23" cy="286.6" r="1.55" fill="#0000ff"/>
<circle cx="177.14" cy="286.1" r="1.55" fill="#0000ff"/>
<circle cx="181.06" cy="285.1" r="1.55" fill="#0000ff"/>
<circle cx="184.98" cy="283.2" r="1.55" fill="#0000ff"/>
<circle cx="188.89" cy="281.8" r="1.55" fill="#0000ff"/>
<circle cx="192.81" cy="279.3" r="1.55" fill="#0000ff"/>
<circle cx="196.73" cy="275.5" r="1.55" fill="#0000ff"/>
<circle cx="200.65" cy="274.5" r="1.55" fill="#0000ff"/>
<circle cx="204.56" cy="274.5" r="1.55" fill="#0000ff"/>
<circle cx="208.48" cy="277.8" r="1.55" fill="#0000ff"/>
<circle cx="212.4" cy="278.4" r="1.55" fill="#0000ff"/>
<circle cx="216.31" cy="275.9" r="1.55" fill="#0000ff"/>
<line x1="171.7" y1="314.3" x2="184.5" y2="314.3" stroke="#0000ff" stroke-width="1.0" />
<circle cx="178.1" cy="314.3" r="1.35" fill="#0000ff"/>
<text x="190.9" y="316.5" font-size="6.6" font-weight="normal" text-anchor="start" fill="#222" stroke="#222" stroke-width="0.15">Males</text>
<line x1="171.7" y1="320.5" x2="184.5" y2="320.5" stroke="#ff0000" stroke-width="1.0" />
<circle cx="178.1" cy="320.5" r="1.35" fill="#ff0000"/>
<text x="190.9" y="322.7" font-size="6.6" font-weight="normal" text-anchor="start" fill="#222" stroke="#222" stroke-width="0.15">Females</text>
<rect x="335.35" y="224.3" width="19.5" height="36.36" fill="#ff0000" stroke="#111" stroke-width="1.3"/>
<rect x="368.85" y="224.3" width="20.1" height="40.82" fill="#0000ff" stroke="#111" stroke-width="1.3"/>
<line x1="323.1" y1="224.3" x2="400.9" y2="224.3" stroke="#000" stroke-width="1.5" />
<path d="M345.1 256.3V266.5M339.5 266.5h11.2M339.5 256.3h11.2" stroke="#444" stroke-width="0.8" fill="none"/>
<circle cx="340.5" cy="253.5" r="1.25" fill="#000"/>
<circle cx="345.4" cy="255.4" r="1.25" fill="#000"/>
<circle cx="350.2" cy="253.9" r="1.25" fill="#000"/>
<circle cx="345.4" cy="263.1" r="1.25" fill="#000"/>
<circle cx="345.4" cy="281.1" r="1.25" fill="#000"/>
<path d="M378.9 261.2V270.3M373.3 270.3h11.2M373.3 261.2h11.2" stroke="#444" stroke-width="0.8" fill="none"/>
<circle cx="379.1" cy="255.8" r="1.25" fill="#000"/>
<circle cx="379.1" cy="258.3" r="1.25" fill="#000"/>
<circle cx="379.1" cy="262.8" r="1.25" fill="#000"/>
<circle cx="379.1" cy="274.7" r="1.25" fill="#000"/>
<circle cx="379.1" cy="277.6" r="1.25" fill="#000"/>
<line x1="323.1" y1="223.6" x2="323.1" y2="342.3" stroke="#000" stroke-width="1.5" />
<line x1="317.7" y1="341.6" x2="323.1" y2="341.6" stroke="#000" stroke-width="1.3" />
<text transform="translate(316.6,344.9) scale(0.9,1)" font-size="9.3" font-weight="bold" text-anchor="end">-10</text>
<line x1="317.7" y1="329.87" x2="323.1" y2="329.87" stroke="#000" stroke-width="1.3" />
<text transform="translate(316.6,333.17) scale(0.9,1)" font-size="9.3" font-weight="bold" text-anchor="end">-9</text>
<line x1="317.7" y1="318.14" x2="323.1" y2="318.14" stroke="#000" stroke-width="1.3" />
<text transform="translate(316.6,321.44) scale(0.9,1)" font-size="9.3" font-weight="bold" text-anchor="end">-8</text>
<line x1="317.7" y1="306.41" x2="323.1" y2="306.41" stroke="#000" stroke-width="1.3" />
<text transform="translate(316.6,309.71) scale(0.9,1)" font-size="9.3" font-weight="bold" text-anchor="end">-7</text>
<line x1="317.7" y1="294.68" x2="323.1" y2="294.68" stroke="#000" stroke-width="1.3" />
<text transform="translate(316.6,297.98) scale(0.9,1)" font-size="9.3" font-weight="bold" text-anchor="end">-6</text>
<line x1="317.7" y1="282.95" x2="323.1" y2="282.95" stroke="#000" stroke-width="1.3" />
<text transform="translate(316.6,286.25) scale(0.9,1)" font-size="9.3" font-weight="bold" text-anchor="end">-5</text>
<line x1="317.7" y1="271.22" x2="323.1" y2="271.22" stroke="#000" stroke-width="1.3" />
<text transform="translate(316.6,274.52) scale(0.9,1)" font-size="9.3" font-weight="bold" text-anchor="end">-4</text>
<line x1="317.7" y1="259.49" x2="323.1" y2="259.49" stroke="#000" stroke-width="1.3" />
<text transform="translate(316.6,262.79) scale(0.9,1)" font-size="9.3" font-weight="bold" text-anchor="end">-3</text>
<line x1="317.7" y1="247.76" x2="323.1" y2="247.76" stroke="#000" stroke-width="1.3" />
<text transform="translate(316.6,251.06) scale(0.9,1)" font-size="9.3" font-weight="bold" text-anchor="end">-2</text>
<line x1="317.7" y1="236.03" x2="323.1" y2="236.03" stroke="#000" stroke-width="1.3" />
<text transform="translate(316.6,239.33) scale(0.9,1)" font-size="9.3" font-weight="bold" text-anchor="end">-1</text>
<line x1="317.7" y1="224.3" x2="323.1" y2="224.3" stroke="#000" stroke-width="1.3" />
<text transform="translate(316.6,227.6) scale(0.9,1)" font-size="9.3" font-weight="bold" text-anchor="end">0</text>
<line x1="322.4" y1="341.6" x2="400.9" y2="341.6" stroke="#000" stroke-width="1.5" />
<line x1="345.5" y1="341.6" x2="345.5" y2="344.9" stroke="#000" stroke-width="1.3" />
<text x="345.5" y="355.9" font-size="9.6" font-weight="bold" text-anchor="middle" fill="#000" textLength="31.0" lengthAdjust="spacingAndGlyphs">Female</text>
<line x1="378.7" y1="341.6" x2="378.7" y2="344.9" stroke="#000" stroke-width="1.3" />
<text x="378.7" y="355.9" font-size="9.6" font-weight="bold" text-anchor="middle" fill="#000" textLength="20.8" lengthAdjust="spacingAndGlyphs">Male</text>
<path d="M345.4 286.3V293H379.1V286.3" stroke="#666" stroke-width="0.8" fill="none"/>
<text x="362" y="288.2" font-size="6.8" font-weight="normal" text-anchor="middle" fill="#444" >0.5352</text>
<text transform="translate(296.6,282) rotate(-90)" font-size="9.7" font-weight="bold" text-anchor="middle">Average ΔT<tspan font-size="7.2" dy="2.2">b</tspan><tspan dy="-2.2"> (°C)</tspan></text>
<text x="310" y="208.7" font-size="11.37" font-weight="bold" text-anchor="start" fill="#000" >40mg/kg Capsinoid</text>
<rect x="570.35" y="225.9" width="20.5" height="56.56" fill="#ff0000" stroke="#111" stroke-width="1.3"/>
<rect x="603.65" y="225.9" width="20.6" height="62.41" fill="#0000ff" stroke="#111" stroke-width="1.3"/>
<line x1="558.4" y1="225.9" x2="636.5" y2="225.9" stroke="#000" stroke-width="1.5" />
<path d="M580.6 270.9V294.6M575 294.6h11.2M575 270.9h11.2" stroke="#444" stroke-width="0.8" fill="none"/>
<circle cx="578.2" cy="268" r="1.25" fill="#000"/>
<circle cx="583" cy="269.9" r="1.25" fill="#000"/>
<circle cx="580.7" cy="275.7" r="1.25" fill="#000"/>
<circle cx="578.2" cy="270.9" r="1.25" fill="#000"/>
<circle cx="580.6" cy="329.9" r="1.25" fill="#000"/>
<path d="M613.95 283.4V294.4M608.35 294.4h11.2M608.35 283.4h11.2" stroke="#444" stroke-width="0.8" fill="none"/>
<circle cx="614.3" cy="270.9" r="1.25" fill="#000"/>
<circle cx="612.5" cy="286.3" r="1.25" fill="#000"/>
<circle cx="616" cy="286.3" r="1.25" fill="#000"/>
<circle cx="614" cy="294.4" r="1.25" fill="#000"/>
<circle cx="613.9" cy="304.9" r="1.25" fill="#000"/>
<line x1="558.4" y1="225.2" x2="558.4" y2="343.7" stroke="#000" stroke-width="1.5" />
<line x1="553" y1="343" x2="558.4" y2="343" stroke="#000" stroke-width="1.3" />
<text transform="translate(551.9,346.3) scale(0.9,1)" font-size="9.3" font-weight="bold" text-anchor="end">-10</text>
<line x1="553" y1="331.29" x2="558.4" y2="331.29" stroke="#000" stroke-width="1.3" />
<text transform="translate(551.9,334.59) scale(0.9,1)" font-size="9.3" font-weight="bold" text-anchor="end">-9</text>
<line x1="553" y1="319.58" x2="558.4" y2="319.58" stroke="#000" stroke-width="1.3" />
<text transform="translate(551.9,322.88) scale(0.9,1)" font-size="9.3" font-weight="bold" text-anchor="end">-8</text>
<line x1="553" y1="307.87" x2="558.4" y2="307.87" stroke="#000" stroke-width="1.3" />
<text transform="translate(551.9,311.17) scale(0.9,1)" font-size="9.3" font-weight="bold" text-anchor="end">-7</text>
<line x1="553" y1="296.16" x2="558.4" y2="296.16" stroke="#000" stroke-width="1.3" />
<text transform="translate(551.9,299.46) scale(0.9,1)" font-size="9.3" font-weight="bold" text-anchor="end">-6</text>
<line x1="553" y1="284.45" x2="558.4" y2="284.45" stroke="#000" stroke-width="1.3" />
<text transform="translate(551.9,287.75) scale(0.9,1)" font-size="9.3" font-weight="bold" text-anchor="end">-5</text>
<line x1="553" y1="272.74" x2="558.4" y2="272.74" stroke="#000" stroke-width="1.3" />
<text transform="translate(551.9,276.04) scale(0.9,1)" font-size="9.3" font-weight="bold" text-anchor="end">-4</text>
<line x1="553" y1="261.03" x2="558.4" y2="261.03" stroke="#000" stroke-width="1.3" />
<text transform="translate(551.9,264.33) scale(0.9,1)" font-size="9.3" font-weight="bold" text-anchor="end">-3</text>
<line x1="553" y1="249.32" x2="558.4" y2="249.32" stroke="#000" stroke-width="1.3" />
<text transform="translate(551.9,252.62) scale(0.9,1)" font-size="9.3" font-weight="bold" text-anchor="end">-2</text>
<line x1="553" y1="237.61" x2="558.4" y2="237.61" stroke="#000" stroke-width="1.3" />
<text transform="translate(551.9,240.91) scale(0.9,1)" font-size="9.3" font-weight="bold" text-anchor="end">-1</text>
<line x1="553" y1="225.9" x2="558.4" y2="225.9" stroke="#000" stroke-width="1.3" />
<text transform="translate(551.9,229.2) scale(0.9,1)" font-size="9.3" font-weight="bold" text-anchor="end">0</text>
<line x1="557.7" y1="343" x2="636.5" y2="343" stroke="#000" stroke-width="1.5" />
<line x1="580.6" y1="343" x2="580.6" y2="346.3" stroke="#000" stroke-width="1.3" />
<text x="580.6" y="357.3" font-size="9.6" font-weight="bold" text-anchor="middle" fill="#000" textLength="31.0" lengthAdjust="spacingAndGlyphs">Female</text>
<line x1="613.9" y1="343" x2="613.9" y2="346.3" stroke="#000" stroke-width="1.3" />
<text x="613.9" y="357.3" font-size="9.6" font-weight="bold" text-anchor="middle" fill="#000" textLength="20.8" lengthAdjust="spacingAndGlyphs">Male</text>
<path d="M580.6 334.9V339.9H613.9V309.7" stroke="#666" stroke-width="0.8" fill="none"/>
<text x="597.4" y="334.6" font-size="6.8" font-weight="normal" text-anchor="middle" fill="#444" >0.6717</text>
<text transform="translate(532.2,283.4) rotate(-90)" font-size="9.7" font-weight="bold" text-anchor="middle">Max ΔT<tspan font-size="7.2" dy="2.2">b</tspan><tspan dy="-2.2"> (°C)</tspan></text>
<text x="545.4" y="209.9" font-size="11.37" font-weight="bold" text-anchor="start" fill="#000" >40mg/kg Capsinoid</text>
<text transform="translate(0.57,22.02) scale(0.809,1)" font-size="28.36" font-weight="normal" stroke="#000" stroke-width="0.9">a</text>
<text transform="translate(235.87,21.6) scale(0.783,1)" font-size="30.07" font-weight="normal" stroke="#000" stroke-width="0.9">b</text>
<text transform="translate(458.69,24.71) scale(0.770,1)" font-size="29.45" font-weight="bold" stroke="#000" stroke-width="0.6">c</text>
<text transform="translate(1.64,205.61) scale(0.820,1)" font-size="29.25" font-weight="normal" stroke="#000" stroke-width="0.9">d</text>
<text transform="translate(266.28,215.91) scale(0.852,1)" font-size="29.27" font-weight="normal" stroke="#000" stroke-width="0.9">e</text>
<text transform="translate(505.39,216) scale(0.929,1)" font-size="29.24" font-weight="normal" stroke="#000" stroke-width="0.9">f</text>
<line x1="62.8" y1="114.3" x2="160.3" y2="114.3" stroke="#333" stroke-width="0.8" />
<text x="109.8" y="120.7" font-size="6.4" font-weight="normal" text-anchor="middle" fill="#333" >p&lt;0.05</text>
<text x="362.9" y="87.6" font-size="6.5" font-weight="normal" text-anchor="middle" fill="#ff3030" >*</text>
<text x="370.5" y="83.4" font-size="6.5" font-weight="normal" text-anchor="middle" fill="#ff3030" >*</text>
<text x="386.1" y="77.5" font-size="6.5" font-weight="normal" text-anchor="middle" fill="#ff3030" >*</text>
<text x="392.2" y="82.7" font-size="6.5" font-weight="normal" text-anchor="middle" fill="#ff3030" >*</text>
<text x="396" y="79.8" font-size="6.5" font-weight="normal" text-anchor="middle" fill="#ff3030" >*</text>
<text x="400.3" y="74.8" font-size="6.5" font-weight="normal" text-anchor="middle" fill="#ff3030" >*</text>
<text x="411.5" y="72.2" font-size="6.5" font-weight="normal" text-anchor="middle" fill="#ff3030" >*</text>
<text x="430.2" y="69.2" font-size="6.5" font-weight="normal" text-anchor="middle" fill="#ff3030" >*</text>
<text x="531.9" y="89.1" font-size="6.5" font-weight="normal" text-anchor="middle" fill="#ff3030" >*</text>
<text x="534.3" y="89.1" font-size="6.5" font-weight="normal" text-anchor="middle" fill="#ff3030" >*</text>
<text x="536.7" y="89.1" font-size="6.5" font-weight="normal" text-anchor="middle" fill="#ff3030" >*</text>
<text x="539" y="89.1" font-size="6.5" font-weight="normal" text-anchor="middle" fill="#ff3030" >*</text>
<text x="541.4" y="89.1" font-size="6.5" font-weight="normal" text-anchor="middle" fill="#ff3030" >*</text>
<text x="543.7" y="89.1" font-size="6.5" font-weight="normal" text-anchor="middle" fill="#ff3030" >*</text>
<text x="546" y="89.1" font-size="6.5" font-weight="normal" text-anchor="middle" fill="#ff3030" >*</text>
<text x="545.6" y="83" font-size="6.5" font-weight="normal" text-anchor="middle" fill="#ff3030" >*</text>
<text x="548.4" y="83" font-size="6.5" font-weight="normal" text-anchor="middle" fill="#ff3030" >*</text>
<text x="539.6" y="91.7" font-size="6.5" font-weight="normal" text-anchor="middle" fill="#ff3030" >*</text>
<text x="576.4" y="96.2" font-size="6.5" font-weight="normal" text-anchor="middle" fill="#ff3030" >*</text>
<text x="592.2" y="99.3" font-size="6.5" font-weight="normal" text-anchor="middle" fill="#ff3030" >*</text>
<text x="595.7" y="98.1" font-size="6.5" font-weight="normal" text-anchor="middle" fill="#ff3030" >*</text>
</svg>
</body></html>
